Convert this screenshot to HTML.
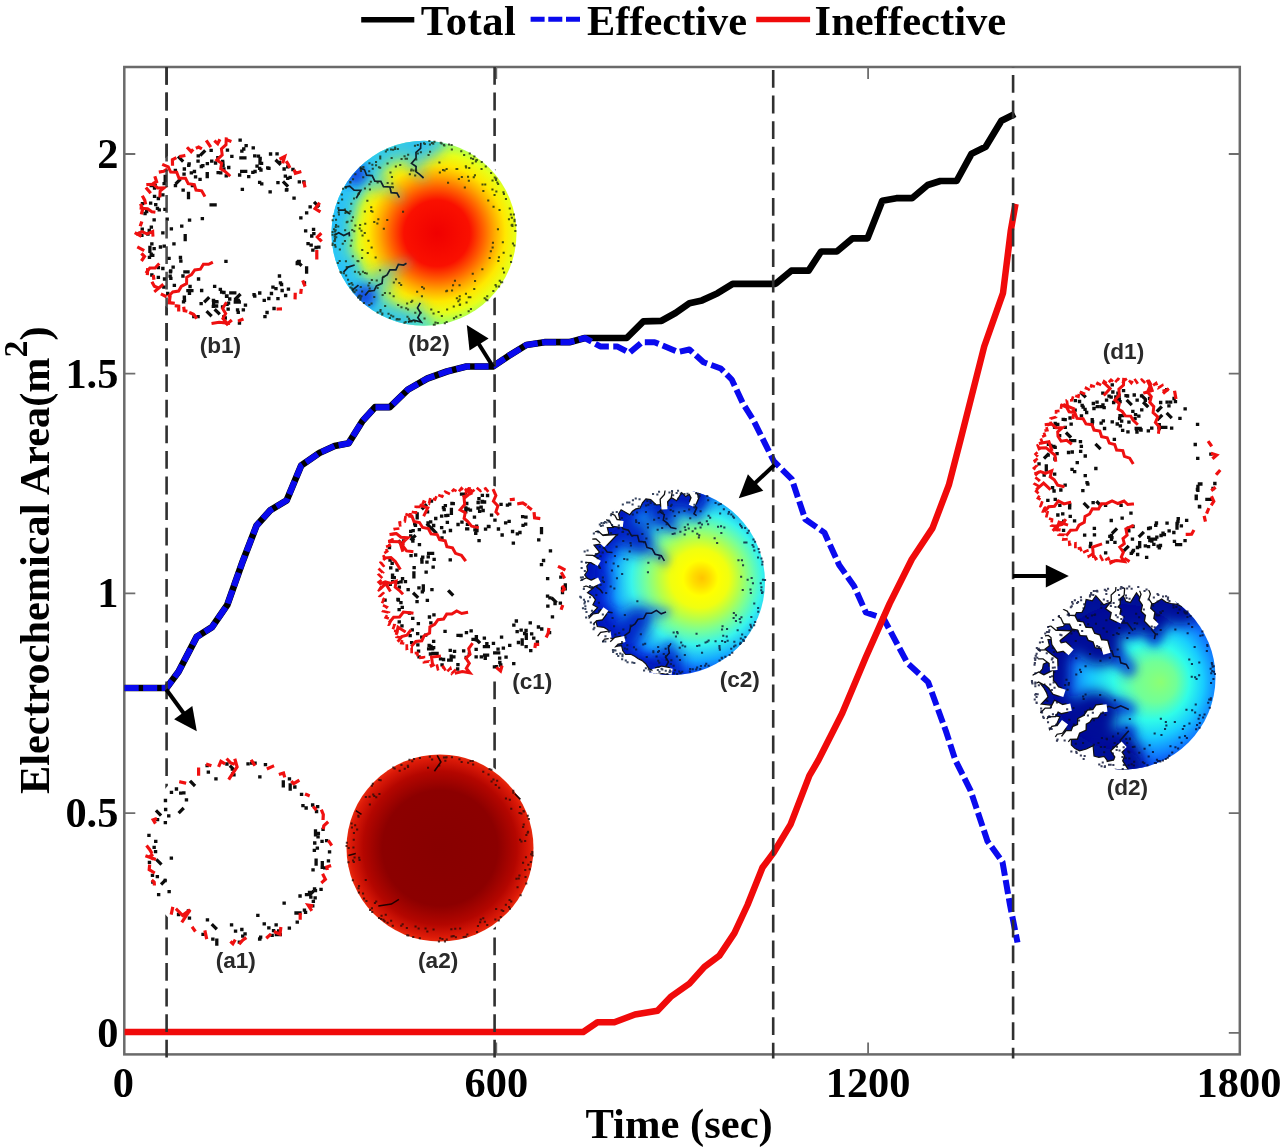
<!DOCTYPE html>
<html><head><meta charset="utf-8"><title>Electrochemical Area vs Time</title>
<style>
html,body{margin:0;padding:0;background:#fff;}
body{width:1280px;height:1148px;overflow:hidden;font-family:"Liberation Serif",serif;}
svg{display:block;filter:blur(0.45px);}
</style></head><body>
<svg width="1280" height="1148" viewBox="0 0 1280 1148">
<defs>
<filter id="blur4" x="-30%" y="-30%" width="160%" height="160%"><feGaussianBlur stdDeviation="4"/></filter>
<filter id="blur5" x="-30%" y="-30%" width="160%" height="160%"><feGaussianBlur stdDeviation="5"/></filter>
<filter id="blur6" x="-30%" y="-30%" width="160%" height="160%"><feGaussianBlur stdDeviation="6"/></filter>
<filter id="blur7" x="-30%" y="-30%" width="160%" height="160%"><feGaussianBlur stdDeviation="7"/></filter>
<filter id="blur8" x="-30%" y="-30%" width="160%" height="160%"><feGaussianBlur stdDeviation="8"/></filter>
<filter id="blur9" x="-30%" y="-30%" width="160%" height="160%"><feGaussianBlur stdDeviation="9"/></filter>
<radialGradient id="ga" gradientUnits="userSpaceOnUse" cx="0" cy="0" r="96">
 <stop offset="0" stop-color="#880000"/><stop offset="0.60" stop-color="#8c0000"/>
 <stop offset="0.80" stop-color="#b40600"/><stop offset="0.93" stop-color="#dc1a08"/><stop offset="1" stop-color="#ee3210"/>
</radialGradient>
<radialGradient id="gb" gradientUnits="userSpaceOnUse" cx="13" cy="0" r="110">
 <stop offset="0" stop-color="#f00000"/><stop offset="0.30" stop-color="#fa1000"/><stop offset="0.42" stop-color="#ff6000"/>
 <stop offset="0.52" stop-color="#ffa800"/><stop offset="0.62" stop-color="#ffe800"/><stop offset="0.72" stop-color="#e8ff18"/>
 <stop offset="0.80" stop-color="#b0ff50"/><stop offset="0.90" stop-color="#60ffb0"/><stop offset="1" stop-color="#20e0ff"/>
</radialGradient>
<radialGradient id="gc" gradientUnits="userSpaceOnUse" cx="22" cy="-2" fx="30" fy="-4" r="104">
 <stop offset="0" stop-color="#ffc400"/><stop offset="0.08" stop-color="#ffdc00"/><stop offset="0.17" stop-color="#ffff00"/>
 <stop offset="0.28" stop-color="#f0ff10"/><stop offset="0.39" stop-color="#b4ff4c"/><stop offset="0.50" stop-color="#78ff98"/>
 <stop offset="0.63" stop-color="#38f4ec"/><stop offset="0.78" stop-color="#14a8ff"/><stop offset="0.90" stop-color="#0848f0"/>
 <stop offset="1" stop-color="#0010b8"/>
</radialGradient>
<radialGradient id="gd" gradientUnits="userSpaceOnUse" cx="10" cy="4" fx="37.5" fy="4.5" r="112">
 <stop offset="0" stop-color="#8cff74"/><stop offset="0.18" stop-color="#70ff98"/><stop offset="0.34" stop-color="#30fce8"/>
 <stop offset="0.50" stop-color="#18ccff"/><stop offset="0.66" stop-color="#1080ff"/><stop offset="0.80" stop-color="#0838e8"/>
 <stop offset="0.92" stop-color="#0414b8"/><stop offset="1" stop-color="#0008a0"/>
</radialGradient>
</defs>
<rect width="1280" height="1148" fill="#fff"/>
<rect x="124.3" y="67.0" width="1115.5" height="987.4" fill="none" stroke="#6a6a6a" stroke-width="2.5"/>
<path d="M496.3 1054.4v-12M496.3 67.0v12M868.1 1054.4v-12M868.1 67.0v12M124.3 1032.8h11M1239.8 1032.8h-11M124.3 813.1h11M1239.8 813.1h-11M124.3 593.4h11M1239.8 593.4h-11M124.3 373.7h11M1239.8 373.7h-11M124.3 154.0h11M1239.8 154.0h-11" stroke="#6e6e6e" stroke-width="1.8" fill="none"/>
<polyline points="124.6,688.0 166.5,688.0 178.5,671.8 196.7,636.9 212.0,627.2 227.3,604.9 242.6,561.7 256.6,525.4 270.5,510.1 286.7,500.3 301.2,465.5 319.3,453.0 334.6,446.0 348.6,443.2 362.5,420.9 375.0,407.2 389.8,407.2 407.9,389.6 427.4,378.5 446.9,371.5 466.4,366.5 492.9,366.5 508.2,356.2 526.3,345.0 544.5,342.2 569.5,342.2 584.9,338.0 626.7,338.0 643.4,321.3 661.5,320.8 675.5,313.0 689.4,303.3 702.0,300.4 717.6,293.2 732.7,283.8 775.6,283.8 791.3,270.7 808.6,270.7 821.1,251.5 836.8,251.5 852.5,238.4 867.5,238.4 882.3,200.7 896.4,198.2 912.0,198.2 927.7,185.0 940.3,181.0 956.6,181.0 971.6,153.7 985.7,146.8 1001.4,120.8 1014.9,113.9" fill="none" stroke="#000" stroke-width="6.7" stroke-linejoin="round"/>
<polyline points="124.6,688.0 166.5,688.0 178.5,671.8 196.7,636.9 212.0,627.2 227.3,604.9 242.6,561.7 256.6,525.4 270.5,510.1 286.7,500.3 301.2,465.5 319.3,453.0 334.6,446.0 348.6,443.2 362.5,420.9 375.0,407.2 389.8,407.2 407.9,389.6 427.4,378.5 446.9,371.5 466.4,366.5 492.9,366.5 508.2,356.2 526.3,345.0 544.5,342.2 569.5,342.2 584.9,338.0 600.2,346.4 617.0,346.4 629.5,352.8 642.0,342.2 654.6,342.2 678.3,352.0 689.4,349.5 703.5,362.2 720.8,368.5 731.7,379.5 742.7,403.0 753.3,420.0 774.0,461.5 791.8,479.2 805.2,519.2 824.4,532.6 839.2,565.1 854.0,585.9 865.9,612.5 883.6,618.5 907.3,662.9 928.1,682.1 945.9,731.0 955.3,760.0 970.6,790.6 987.5,841.2 1002.5,861.9 1010.0,905.0 1017.5,942.5" fill="none" stroke="#0a0aee" stroke-width="6.0" stroke-linejoin="round" stroke-dasharray="14.1 4.4"/>
<polyline points="124.6,1032.0 583.2,1032.0 597.5,1022.3 614.4,1022.3 635.0,1014.5 657.5,1010.7 670.6,996.9 689.4,983.7 704.4,966.9 719.4,955.6 734.4,933.1 747.5,905.0 762.5,867.5 773.7,852.5 790.6,824.4 809.4,775.6 818.5,760.0 842.2,713.2 865.9,657.0 889.6,603.6 911.8,559.2 932.5,528.1 948.8,485.2 960.5,440.0 984.2,346.5 1003.0,293.2 1010.8,230.5 1015.5,203.9" fill="none" stroke="#f00a0a" stroke-width="6.5" stroke-linejoin="round"/>
<line x1="166.6" y1="67" x2="166.6" y2="1058.5" stroke="#303030" stroke-width="2.6" stroke-dasharray="17.8 7.8" stroke-dashoffset="0.0"/>
<line x1="494.6" y1="67" x2="494.6" y2="1058.5" stroke="#303030" stroke-width="2.6" stroke-dasharray="17.8 7.8" stroke-dashoffset="0.0"/>
<line x1="773.2" y1="67" x2="773.2" y2="1058.5" stroke="#303030" stroke-width="2.6" stroke-dasharray="17.8 7.8" stroke-dashoffset="22.6"/>
<line x1="1013.1" y1="67" x2="1013.1" y2="1058.5" stroke="#303030" stroke-width="2.6" stroke-dasharray="17.8 7.8" stroke-dashoffset="17.6"/>
<g transform="translate(239.0,851.5)">
<circle r="97.0" fill="#fff"/>
<path d="M-81.7 25.2h0.1M77.5 -40.0h0.1M-84.9 -4.2h0.1M34.5 79.2h0.1M-55.2 -58.7h0.1M74.3 49.9h0.1M67.5 43.2h0.1M-31.9 -85.9h0.1M75.7 -8.5h0.1M-47.9 -69.5l2.8 2.8M50.3 76.6h0.1M-90.1 -16.2h0.1M33.1 83.9h0.1M85.6 16.4h0.1M-73.9 29.0h0.1M-83.3 -10.1h0.1M-83.5 0.1h0.1M-86.6 23.8h0.1M75.3 -1.1h0.1M44.3 -69.6l0.0 4.0M-36.0 82.8h0.1M-22.2 88.7l0.0 4.0M9.0 -87.7h0.1M50.4 -72.6h0.1M76.5 -20.6l0.0 4.0M90.5 0.3h0.1M73.6 -46.5h0.1M87.6 -10.9h0.1M75.5 37.3h0.1M16.0 -88.4h0.1M76.1 46.4h0.1M79.3 -18.2h0.1M66.5 60.9h0.1M73.7 54.3h0.1M26.4 -86.8h0.1M-81.5 -31.8h0.1M29.8 76.3h0.1M57.0 61.5l4.0 0.0M65.4 58.7h0.1M20.8 87.4h0.1M79.0 -14.6h0.1M-26.1 73.8l2.8 2.8M21.6 85.6h0.1M51.2 -66.5l0.0 4.0M61.0 44.5h0.1M20.6 87.6h0.1M12.7 -88.3h0.1M-26.2 87.6h0.1M71.8 45.6h0.1M3.7 84.6h0.1M-60.5 63.0h0.1M84.0 -22.1h0.1M-70.3 -35.6h0.1M37.3 83.0l4.0 0.0M67.1 -43.5h0.1M0.3 90.7h0.1M-5.1 -76.7h0.1M25.2 72.3h0.1M62.5 -57.1h0.1M-80.4 43.2h0.1M74.0 18.4h0.1M6.0 82.4h0.1M-3.5 79.7h0.1M-73.6 -51.0h0.1M37.1 73.4h0.1M82.0 37.8h0.1M-73.7 -28.8h0.1M-67.6 -59.1h0.1M78.6 -44.9h0.1M89.4 9.3h0.1M-86.2 30.6h0.1M39.6 79.3h0.1M-81.9 -39.9l2.8 2.8M-50.6 59.5h0.1M83.0 -10.2h0.1M-30.7 -79.3h0.1M58.2 70.7h0.1M77.1 8.7l0.0 4.0M-23.1 -72.6h0.1M83.3 11.2l0.0 4.0M-81.5 9.1l2.8 2.8M-31.6 68.3h0.1M76.4 39.1h0.1M-6.4 -77.6h0.1M-6.7 -82.3h0.1M20.8 -74.7h0.1M-49.6 66.6h0.1M63.9 -45.9h0.1M-69.9 40.1h0.1M55.8 -64.5h0.1M-62.6 -62.5h0.1M-73.4 -42.0h0.1M73.5 40.5l-2.8 2.8M78.3 -3.3h0.1M-12.1 -87.5h0.1M-8.0 -84.7l2.8 2.8M-74.0 29.0l-2.8 2.8M70.5 41.0h0.1M83.2 15.8h0.1M-89.6 10.8h0.1M-67.7 6.6h0.1M45.1 51.7h0.1M18.8 63.9h0.1M-7.5 73.3h0.1M2.8 78.0h0.1M-58.3 -58.3h0.1M-52.6 -51.7h0.1M-56.4 -42.3l-2.8 2.8" stroke="#0c0c0c" stroke-width="3.3" stroke-linecap="square" fill="none"/>
<path d="M90.6 14.6L87.8 15.5L88.1 16.9M84.3 23.6L86.4 27.8L83.5 30.4M72.6 54.2L69.1 53.7L71.9 58.0M61.2 63.1L61.2 66.6M41.7 77.1L41.0 82.7L36.5 80.7M30.9 83.4L28.4 85.7M6.1 87.0L3.7 88.7L1.2 91.5M-4.5 89.5L-6.1 92.2L-7.4 91.0M-32.6 86.1L-33.8 80.5M-44.5 78.7L-46.0 76.6M-67.5 61.6L-66.5 56.9M-84.7 32.4L-84.8 30.8L-86.1 29.6M-85.6 20.7L-89.8 18.2L-89.5 14.8M-87.0 6.9L-89.7 5.4L-87.2 3.6M-87.9 0.5L-89.4 -2.1L-91.5 -4.7M-84.4 -29.3L-85.8 -31.6L-83.5 -32.5M-58.2 -69.5L-54.4 -68.6M-40.4 -77.4L-40.4 -82.5M-31.4 -87.0L-29.1 -86.2M-19.8 -86.2L-18.1 -90.1L-15.2 -88.4M-11.3 -91.8L-8.4 -88.6L-5.8 -87.7M13.0 -90.4L15.1 -87.1M29.3 -83.2L33.6 -85.1M41.4 -77.5L44.5 -78.5L45.3 -75.6M53.4 -69.3L54.6 -67.9L59.0 -70.5M67.5 -56.9L69.2 -56.2M75.2 -43.8L76.3 -42.6M82.9 -40.3L84.3 -37.0L84.1 -33.1M88.0 -28.7L84.8 -25.8L84.5 -23.8M90.2 -9.7L91.8 -7.3M-3.8 -91.2L-1.9 -84.6L-9.4 -73.3M-62.0 58.3L-56.4 63.9L-48.9 58.3L-56.4 69.6M-92.1 4.7L-84.6 7.5" stroke="#f01010" stroke-width="3.2" stroke-linecap="square" fill="none"/>
</g>
<g transform="translate(440.0,848.0)">
<circle r="96.5" fill="#fff"/>
<clipPath id="clip_a"><circle r="93.5"/></clipPath>
<g clip-path="url(#clip_a)">
<rect x="-95.5" y="-95.5" width="191.0" height="191.0" fill="url(#ga)"/>
</g>
<path d="M-86.2 13.9h0.1M-46.7 -80.6h0.1M91.1 6.2h0.1M-12.7 83.6h0.1M-32.2 -82.2h0.1M-81.5 -31.2h0.1M55.3 71.6h0.1M43.2 70.3h0.1M78.7 30.5h0.1M77.5 39.2h0.1M-47.3 77.7h0.1M51.3 -78.2h0.1M76.4 30.7h0.1M-93.2 -5.2h0.1M81.4 -6.6h0.1M69.0 58.9h0.1M60.7 69.0h0.1M-67.2 -64.3h0.1M-30.6 -88.3h0.1M40.1 74.3h0.1M-73.6 53.1h0.1M-74.2 -51.1h0.1M-70.0 62.0h0.1M-12.0 -80.3h0.1M86.3 -12.9h0.1M-56.6 71.7h0.1M-32.0 -81.0h0.1M69.9 60.7h0.1M-58.5 67.8h0.1M33.1 -83.4h0.1M83.0 14.8h0.1M-81.0 38.0h0.1M15.8 89.3h0.1M-65.1 55.1h0.1M71.2 53.5h0.1M37.9 78.0h0.1M89.7 21.2h0.1M-48.9 72.8h0.1M85.5 29.0h0.1M23.6 89.1h0.1M-80.5 12.1h0.1M-80.9 9.7h0.1M40.7 71.4h0.1M-61.0 70.0h0.1M-0.8 -82.4h0.1M92.2 3.9h0.1M11.9 -90.8h0.1M4.9 93.4h0.1M85.2 21.9h0.1M80.0 -8.2h0.1M-93.5 -2.1h0.1M-37.4 76.3h0.1M43.2 -76.3h0.1M11.5 88.6h0.1M-87.0 12.4h0.1M-6.5 81.4h0.1M73.2 -57.3h0.1M-21.4 80.5h0.1M-14.5 80.4h0.1M-86.3 -8.3h0.1M-26.0 -89.0h0.1M-20.2 90.2h0.1M-35.3 -79.2h0.1M56.1 61.1h0.1M-81.1 44.4h0.1M-74.3 32.0h0.1M-81.7 -32.3h0.1M71.2 -39.2h0.1M5.9 -90.6h0.1M-70.2 -43.6h0.1M21.6 -85.9h0.1M-52.5 74.7h0.1M-7.9 -88.5h0.1M85.9 9.3h0.1M69.8 -48.2h0.1M65.9 -49.5h0.1M-82.9 -18.5h0.1M-67.8 64.1h0.1M-55.5 73.3h0.1M79.5 -35.0h0.1M-84.9 -22.7h0.1M63.2 63.0h0.1M-27.8 -86.7h0.1M2.4 90.9h0.1M-38.8 77.7h0.1M58.7 72.6h0.1M-33.2 80.1h0.1M5.3 -87.2h0.1M83.8 -36.4h0.1M88.3 16.7h0.1M-87.2 32.2h0.1M-45.4 -79.5h0.1M6.7 91.5h0.1M87.7 -32.3h0.1M-58.9 70.9h0.1M27.3 86.4h0.1M15.2 80.8h0.1M-86.6 -0.6h0.1M47.2 76.9h0.1M-65.8 -52.0h0.1M0.1 90.3h0.1M51.5 -66.5h0.1M12.6 88.3h0.1M6.5 -90.8h0.1M-40.4 -77.3h0.1M87.6 -15.3h0.1M-38.6 -83.0h0.1M-10.2 -91.2h0.1M-91.4 0.1h0.1M-32.8 87.2h0.1M13.6 88.1h0.1M-1.1 93.4h0.1M30.4 -87.0h0.1M81.3 -34.5h0.1M-63.8 53.4h0.1M73.3 -55.3h0.1M61.6 62.3h0.1M48.5 -73.6h0.1M19.4 -88.7h0.1M-68.2 -62.3h0.1M-76.0 50.4h0.1M-68.1 60.3h0.1M32.7 -87.0h0.1M25.7 88.7h0.1M88.0 -16.2h0.1M79.4 27.4h0.1M59.1 -60.2h0.1M-54.3 66.7h0.1M-31.8 87.5h0.1M55.7 -63.0h0.1M20.1 80.6h0.1M90.8 14.1h0.1M92.6 7.6h0.1M44.8 73.8h0.1M-26.8 88.9h0.1M37.0 84.1h0.1M57.1 -67.2h0.1M69.5 52.1h0.1M-88.1 -20.4h0.1M-86.1 -15.1h0.1M28.1 -85.2h0.1M-59.4 -67.8h0.1M-60.7 -68.0h0.1M-77.0 45.6h0.1M-20.1 -90.0h0.1M80.0 -40.9h0.1M53.4 -68.4h0.1M83.7 -23.6h0.1M-81.5 40.3h0.1M-66.8 -53.6h0.1M49.5 -79.0h0.1M86.2 35.6h0.1M80.6 47.2h0.1M92.3 4.9h0.1M65.8 56.7h0.1M-60.6 -54.0h0.1M83.1 -21.1h0.1M88.8 -29.1h0.1M11.3 81.3h0.1M-91.6 14.2h0.1M3.9 -90.6h0.1M-88.5 -24.6h0.1M4.9 93.2h0.1M-63.8 -50.7h0.1M85.1 -7.1h0.1M83.5 -37.1h0.1M-24.5 78.4h0.1M-70.5 -51.3h0.1M92.3 7.3h0.1M-85.5 9.5h0.1" stroke="#2a0a08" stroke-width="2.0" stroke-linecap="square" fill="none" opacity="0.8"/>
<path d="M-2.8 -92.6L0.9 -86.0L-5.6 -76.7M-61.7 58.0L-48.6 56.1L-41.1 51.4M-91.6 7.5L-84.2 5.6M74.8 -54.2L80.4 -48.6M-84.2 -37.4L-78.5 -33.7" stroke="#200" stroke-width="1.6" fill="none"/>
</g>
<g transform="translate(229.5,232.0)">
<circle r="98.0" fill="#fff"/>
<path d="M39.3 66.5h0.1M-54.2 -61.5h0.1M15.9 73.2h0.1M28.9 -75.9h0.1M-87.3 -2.8h0.1M84.3 1.7h0.1M-78.3 -46.5l4.0 0.0M23.7 -84.2h0.1M9.9 91.1h0.1M76.1 -1.2h0.1M55.8 -55.8h0.1M83.3 18.1h0.1M-90.0 1.4h0.1M80.6 -25.1h0.1M41.9 61.5h0.1M50.9 50.8h0.1M-76.8 23.3h0.1M-45.1 68.3h0.1M35.4 84.7h0.1M58.2 -65.2h0.1M16.6 -86.4h0.1M71.3 -14.2h0.1M2.3 -75.6h0.1M-66.7 -37.1h0.1M58.9 57.1h0.1M41.0 -78.0h0.1M64.5 -33.8h0.1M-71.2 45.4h0.1M-80.1 25.3h0.1M84.0 -2.7h0.1M89.3 15.2h0.1M-14.0 -69.0h0.1M-81.6 2.0h0.1M-72.1 -23.7h0.1M13.8 77.8h0.1M-73.8 -27.4h0.1M37.5 80.5h0.1M-41.6 58.7l4.0 0.0M-45.2 65.1h0.1M-31.5 84.7h0.1M68.2 29.8l2.8 2.8M14.2 -83.0h0.1M-31.5 -70.8h0.1M57.3 -42.3h0.1M-58.8 38.9h0.1M77.1 -19.1h0.1M60.6 -54.7h0.1M-61.8 61.4h0.1M63.4 -62.5h0.1M67.7 31.5h0.1M12.3 -80.9h0.1M47.5 -78.1h0.1M-4.3 86.0h0.1M-77.7 43.0h0.1M77.1 36.0l0.0 4.0M56.9 -41.8h0.1M-2.1 -81.9h0.1M-1.0 71.2h0.1M-75.4 -12.2h0.1M86.5 15.5h0.1M39.4 -63.7h0.1M58.2 -53.7h0.1M-71.2 35.7h0.1M50.1 -69.6h0.1M-84.5 -18.5h0.1M10.6 -91.8h0.1M-28.2 -65.5h0.1M78.5 11.7h0.1M-45.5 -57.8h0.1M-75.0 -43.9h0.1M-59.1 39.8h0.1M74.3 -50.1h0.1M74.9 50.8h0.1M81.6 13.1h0.1M46.4 56.7h0.1M-50.3 -74.4l2.8 2.8M-82.9 -20.5h0.1M-87.7 3.4h0.1M44.5 76.5h0.1M-55.2 53.3h0.1M-87.1 -28.3h0.1M-17.8 -70.9h0.1M11.4 -74.1l4.0 0.0M82.2 4.0h0.1M69.6 29.4h0.1M34.7 68.4h0.1M-1.4 77.1h0.1M-35.7 84.5h0.1M-65.7 55.1h0.1M69.8 -50.2h0.1M-80.3 -1.6h0.1M85.7 -28.9l2.8 2.8M-65.4 -48.3h0.1M-6.9 -70.7h0.1M-28.4 71.6h0.1M-64.6 -22.6h0.1M-5.6 60.5h0.1M38.2 -64.2h0.1M-49.1 25.5h0.1M-21.8 80.3l2.8 2.8M-7.9 60.2h0.1M-22.2 -68.4h0.1M-64.3 -55.5l0.0 4.0M-50.0 -51.9l-2.8 2.8M-70.3 -22.1h0.1M-77.7 11.8h0.1M-2.5 72.3h0.1M-46.6 44.0h0.1M-5.7 -63.2h0.1M-78.2 -4.9h0.1M-69.1 15.0h0.1M-41.0 -38.5l0.0 4.0M-12.6 69.8h0.1M-62.4 -12.9h0.1M12.2 -60.6l4.0 0.0M-46.4 -41.8h0.1M-37.1 -46.4h0.1M-34.0 -55.1h0.1M-41.6 39.9h0.1M-65.3 14.1h0.1M-3.3 -56.1h0.1M47.2 -71.1l2.8 2.8M-66.7 36.5h0.1M-79.6 15.4l0.0 4.0M-75.0 -35.7h0.1M-48.7 29.2h0.1M-26.7 -66.3h0.1M-14.9 54.4h0.1M-40.4 -68.2h0.1M-60.5 26.4h0.1M-45.2 -63.0h0.1M32.0 -68.6h0.1M-44.6 39.9h0.1M-27.9 58.5h0.1M-39.5 54.5h0.1M-59.4 44.1h0.1M27.5 -65.8h0.1M-66.7 0.8h0.1M-65.0 47.0h0.1M-75.4 16.7h0.1M-31.0 47.0h0.1M1.3 60.8l4.0 0.0M23.3 -59.7h0.1M5.8 70.0l4.0 0.0M0.2 67.0h0.1M-40.8 -66.7h0.1M8.7 68.4h0.1M-16.2 74.4h0.1M-58.2 -3.2h0.1M-78.3 22.1h0.1M-11.4 -59.4h0.1M-78.9 -28.9h0.1M-40.1 61.3h0.1M-71.2 -33.5h0.1M-8.8 -59.2h0.1M19.2 -55.4h0.1M6.0 67.5h0.1M-9.2 57.4h0.1M-22.3 -58.3h0.1M-46.0 69.9h0.1M-6.5 -66.7h0.1M-54.1 -46.3h0.1M-11.7 -74.3h0.1M-58.7 46.3h0.1M-56.4 35.2h0.1M54.6 -63.0h0.1M-35.1 -60.5h0.1M30.6 -73.6h0.1M-18.4 -81.7h0.1M-38.2 -59.2h0.1M25.5 -60.5h0.1M-31.3 -76.2h0.1M48.4 -49.4h0.1M-0.8 -64.5h0.1M31.4 -62.0h0.1M-29.5 -52.7h0.1M-25.4 -80.4l-2.8 2.8M-6.7 -69.0h0.1M25.2 -76.2h0.1M30.1 -63.7h0.1M-22.3 -55.3h0.1M32.2 -48.2h0.1M30.5 -72.8l0.0 4.0M30.1 -49.7h0.1M10.1 -57.0h0.1M54.6 -49.4l2.8 2.8M40.6 -40.1h0.1M-5.8 85.0h0.1M30.2 61.0h0.1M9.9 63.2l-2.8 2.8M8.7 80.4h0.1M-16.1 68.3h0.1M-13.7 78.4l2.8 2.8M-21.4 66.3l-2.8 2.8M-3.0 64.3h0.1M-13.0 74.0h0.1M52.0 52.5h0.1M43.4 55.1h0.1M-7.0 74.8h0.1M56.1 63.5h0.1M25.2 64.2h0.1M49.9 44.0h0.1M48.4 66.7h0.1M-15.9 68.8l0.0 4.0M-13.3 69.6h0.1M52.6 58.5h0.1M24.5 62.6h0.1M-2.6 64.0h0.1M8.0 77.9h0.1M-44.3 3.7l0.0 4.0M-47.8 -5.8h0.1M-40.0 -11.8h0.1M-3.6 29.4h0.1M-27.2 -13.3h0.1M-18.4 -27.1l4.0 0.0M12.8 -42.6h0.1M-55.6 11.9h0.1" stroke="#0c0c0c" stroke-width="3.3" stroke-linecap="square" fill="none"/>
<path d="M51.4 -73.5L55.1 -75.4L53.6 -70.2M57.5 -69.5L58.7 -67.7L59.7 -65.5M65.2 -60.7L65.9 -58.8L70.3 -60.0M74.6 -49.1L75.2 -46.2M89.2 -28.0L85.6 -23.4L89.6 -20.9M90.7 2.3L87.9 5.1L91.1 8.3M87.3 19.6L87.3 22.7L87.3 25.9M73.8 49.9L75.0 52.8M71.6 58.5L71.4 60.3M65.7 62.3L65.6 65.8M50.9 76.9L48.7 77.0M12.5 87.6L10.0 88.6M1.1 89.1L-2.4 92.1M-33.7 85.2L-36.0 82.3L-38.9 81.0M-43.7 79.0L-45.3 78.7L-45.6 76.3M-50.8 77.8L-50.8 74.1L-53.2 73.9M-56.3 71.1L-60.3 70.7L-59.5 64.8M-64.4 64.0L-67.2 62.6M-71.5 55.8L-75.1 54.2L-76.8 51.2M-75.8 46.1L-76.0 44.6M-82.1 41.5L-81.9 37.7M-87.2 27.7L-85.0 24.5L-87.0 22.5M-86.7 17.9L-90.8 15.7M-89.4 3.5L-93.4 1.3M-88.8 -7.2L-88.2 -8.9M-87.8 -19.1L-86.9 -22.5L-88.4 -26.7M-84.2 -29.3L-84.8 -31.8L-86.5 -34.9M-79.8 -39.9L-82.6 -43.3M-75.3 -49.0L-72.9 -50.3L-74.2 -54.3M-69.1 -60.1L-65.9 -60.7L-63.6 -62.0M-57.0 -67.8L-57.1 -72.3L-54.5 -73.6M-48.6 -75.7L-45.7 -76.3M-41.4 -83.6L-38.3 -80.4L-37.3 -81.5M-32.2 -84.4L-30.9 -85.0L-29.0 -83.9M-22.4 -90.3L-19.6 -86.1M-14.0 -90.3L-11.8 -88.3L-10.3 -91.3M-1.6 -91.8L0.4 -91.1" stroke="#f01010" stroke-width="3.2" stroke-linecap="square" fill="none"/>
<path d="M-3.3 -93.1L-3.5 -87.3L-8.1 -83.2L-7.3 -77.1L-12.7 -71.9L-7.9 -68.7L-8.8 -63.2L-4.8 -60.9L-0.4 -56.8M-65.9 -67.1L-61.2 -65.0L-58.8 -59.9L-52.8 -59.8L-50.5 -53.7L-44.0 -53.7L-41.3 -48.3L-35.2 -47.4L-33.5 -41.9L-27.8 -41.2L-25.3 -36.7M-60.5 63.7L-56.7 59.9L-50.9 59.1L-48.2 54.4L-42.9 51.6L-42.8 45.3L-38.0 42.6L-34.7 38.0L-29.1 37.2L-26.1 32.2L-20.9 32.3L-18.0 30.8M-16.5 91.2L-10.4 90.2L-2.5 91.1L-6.6 86.6L-3.8 81.6L-6.9 76.5L-3.8 71.5M-81.7 -47.5L-76.4 -47.8L-71.8 -44.1L-65.3 -44.2L-69.4 -40.8L-69.6 -36.0M-92.1 1.9L-87.6 -0.4L-82.5 1.8L-76.8 -0.5L-76.6 3.2M-82.7 39.9L-79.7 36.0L-74.4 36.0L-71.2 32.5M-88.4 -23.8L-81.9 -23.3L-77.7 -20.2L-75.6 -19.9M-74.1 58.9L-67.3 53.2" stroke="#ee1010" stroke-width="3.0" stroke-linejoin="miter" stroke-linecap="square" fill="none"/>
</g>
<g transform="translate(424.0,233.3)">
<circle r="95.5" fill="#fff"/>
<clipPath id="clip_b"><circle r="92.5"/></clipPath>
<g clip-path="url(#clip_b)">
<rect x="-94.5" y="-94.5" width="189.0" height="189.0" fill="url(#gb)"/>
<g filter="url(#blur5)" fill="none" stroke-linecap="round" stroke-linejoin="round"><path d="M-3.2 -90.6L-3.4 -85.0L-8.0 -81.0L-7.9 -75.3L-12.5 -69.9L-7.9 -66.8L-8.1 -61.7L-4.7 -59.2L-0.4 -55.3M-64.2 -65.3L-59.5 -63.5L-57.4 -58.1L-51.8 -57.7L-49.2 -52.2L-43.2 -51.9L-40.5 -46.6L-34.1 -46.3L-32.8 -40.7L-27.0 -40.2L-24.6 -35.7M-58.9 62.1L-55.5 57.9L-49.8 57.2L-47.6 52.6L-41.9 50.1L-41.4 44.3L-36.9 41.7L-34.1 36.5L-28.1 36.6L-25.6 31.1L-20.4 31.7L-17.5 30.0M-16.1 88.8L-10.2 86.9L-2.8 88.7L-6.2 84.3L-3.5 79.4L-6.5 74.6L-3.7 69.6M-79.5 -46.2L-74.3 -47.2L-69.9 -43.2L-63.2 -42.9L-67.8 -35.1M-89.7 1.9L-85.3 -0.6L-80.3 2.2L-74.8 -0.4L-74.6 3.1M-80.5 38.9L-75.8 33.8L-69.3 31.7M-86.0 -23.1L-79.7 -23.3L-75.0 -19.9L-73.6 -19.4M-72.2 57.4L-65.5 51.8" stroke="#28c8ff" stroke-opacity="0.30" stroke-width="9"/></g>
<g filter="url(#blur7)" fill="none" stroke-linecap="round" stroke-linejoin="round"><path d="M-3.2 -90.6L-3.4 -85.0L-8.0 -81.0L-7.9 -75.3M-64.2 -65.3L-59.5 -63.5L-57.4 -58.1L-51.8 -57.7L-49.2 -52.2M-58.9 62.1L-55.5 57.9L-49.8 57.2L-47.6 52.6L-41.9 50.1L-41.4 44.3M-16.1 88.8L-10.2 86.9L-2.8 88.7M-79.5 -46.2L-74.3 -47.2M-89.7 1.9L-85.3 -0.6M-80.5 38.9L-75.8 33.8M-86.0 -23.1L-79.7 -23.3M-72.2 57.4L-65.5 51.8" stroke="#24c0ff" stroke-opacity="0.50" stroke-width="24"/></g>
<g filter="url(#blur7)" fill="none" stroke-linecap="round" stroke-linejoin="round"><path d="M-28.3 87.1L-34.5 84.8L-40.5 82.1L-46.4 79.0L-51.9 75.4L-57.3 71.5L-62.3 67.1L-67.0 62.5L-71.3 57.5L-75.3 52.2L-78.8 46.6L-82.0 40.8L-84.7 34.8L-87.0 28.6L-88.8 22.2L-90.2 15.7L-91.1 9.2L-91.5 2.6L-91.5 -4.0L-91.0 -10.6L-90.0 -17.2L-88.5 -23.6L-86.5 -29.9L-84.2 -36.1L-81.3 -42.1L-78.1 -47.8L-74.4 -53.4L-70.4 -58.6L-66.0 -63.5L-61.2 -68.1L-56.1 -72.4L-50.8 -76.2L-45.1 -79.7L-39.3 -82.7L-33.2 -85.4L-26.9 -87.5L-20.5 -89.2L-14.0 -90.5L-7.5 -91.3L-0.9 -91.6L5.8 -91.4" stroke="#20b8ff" stroke-opacity="0.75" stroke-width="30"/></g>
<circle cx="-68.5" cy="-59.2" r="11" fill="#0838e0" fill-opacity="0.85" filter="url(#blur5)"/>
<circle cx="-59.2" cy="62.9" r="11" fill="#0838e0" fill-opacity="0.85" filter="url(#blur5)"/>
<path d="M-3.2 -90.6L-3.4 -85.0L-8.0 -81.0L-7.9 -75.3L-12.5 -69.9L-7.9 -66.8L-8.1 -61.7L-4.7 -59.2L-0.4 -55.3M-64.2 -65.3L-59.5 -63.5L-57.4 -58.1L-51.8 -57.7L-49.2 -52.2L-43.2 -51.9L-40.5 -46.6L-34.1 -46.3L-32.8 -40.7L-27.0 -40.2L-24.6 -35.7M-58.9 62.1L-55.5 57.9L-49.8 57.2L-47.6 52.6L-41.9 50.1L-41.4 44.3L-36.9 41.7L-34.1 36.5L-28.1 36.6L-25.6 31.1L-20.4 31.7L-17.5 30.0M-16.1 88.8L-10.2 86.9L-2.8 88.7L-6.2 84.3L-3.5 79.4L-6.5 74.6L-3.7 69.6M-79.5 -46.2L-74.3 -47.2L-69.9 -43.2L-63.2 -42.9L-67.8 -35.1M-89.7 1.9L-85.3 -0.6L-80.3 2.2L-74.8 -0.4L-74.6 3.1M-80.5 38.9L-75.8 33.8L-69.3 31.7M-86.0 -23.1L-79.7 -23.3L-75.0 -19.9L-73.6 -19.4M-72.2 57.4L-65.5 51.8" stroke="#10202a" stroke-width="1.7" fill="none"/>
</g>
<path d="M74.9 23.9h0.1M68.6 14.1h0.1M-78.9 -3.1h0.1M-63.9 40.9h0.1M72.3 -41.8h0.1M-54.4 55.2h0.1M-22.6 73.9h0.1M-77.8 -21.6h0.1M-36.5 -69.7h0.1M58.3 36.0h0.1M-49.8 63.6h0.1M-57.3 40.1h0.1M75.5 -23.4h0.1M-71.5 51.5h0.1M68.5 -52.8h0.1M-79.1 -23.9h0.1M-38.9 72.7h0.1M32.2 83.4h0.1M-71.1 -16.1h0.1M-51.7 -68.5h0.1M-30.9 -83.5h0.1M-61.1 38.4h0.1M70.5 -38.2h0.1M45.2 -65.2h0.1M-76.6 -11.6h0.1M73.9 -4.1h0.1M-73.3 12.5h0.1M-51.3 -64.6h0.1M15.4 -70.7h0.1M-54.1 -43.9h0.1M78.8 9.0h0.1M-54.9 -62.0h0.1M35.6 66.2h0.1M-77.3 33.8h0.1M66.8 18.0h0.1M-52.5 70.1h0.1M17.8 82.8h0.1M57.5 -64.3h0.1M-14.5 86.9h0.1M-84.2 16.1h0.1M-41.4 61.6h0.1M64.2 -32.7h0.1M79.6 19.5h0.1M52.1 -72.7h0.1M23.1 76.1h0.1M-54.6 49.7h0.1M-15.9 -78.5h0.1M0.5 85.2h0.1M-9.1 88.3h0.1M-43.8 -74.9h0.1M58.5 -48.8h0.1M74.3 27.7h0.1M-71.0 -54.1h0.1M-89.2 7.5h0.1M9.2 -89.6h0.1M-46.4 -50.7h0.1M48.5 -70.0h0.1M-85.1 -18.8h0.1M-39.1 59.7h0.1M37.2 -82.0h0.1M-55.6 52.3h0.1M32.8 64.9h0.1M61.2 -48.7h0.1M-46.4 54.7h0.1M-85.8 -6.9h0.1M-15.1 85.4h0.1M41.8 -67.1h0.1M-23.8 -68.4h0.1M84.9 -14.1h0.1M-59.1 39.7h0.1M6.0 -81.6h0.1M-48.0 -71.3h0.1M46.9 75.7h0.1M-61.9 58.3h0.1M-68.7 -7.7h0.1M44.7 64.0h0.1M50.9 -58.0h0.1M-72.4 -12.5h0.1M68.9 9.5h0.1M-28.2 -66.9h0.1M40.1 -78.4h0.1M78.9 35.1h0.1M-69.8 -2.1h0.1M68.4 -43.8h0.1M-53.2 -51.5h0.1M-34.2 60.0h0.1M69.5 -26.6h0.1M59.3 -42.2h0.1M-48.0 -68.0h0.1M-16.6 83.4h0.1M65.6 24.7h0.1M-26.8 85.6h0.1M-35.5 80.5h0.1M-78.1 28.0h0.1M36.0 71.2h0.1M-72.4 7.2h0.1M-7.8 -73.8h0.1M-52.8 -22.2h0.1M32.5 -64.4h0.1M-0.1 55.1h0.1M-73.6 -22.1h0.1M-25.9 71.7h0.1M-69.1 38.5h0.1M-1.9 53.8h0.1M-6.2 -79.7h0.1M-58.8 -9.5h0.1M-78.6 -20.3h0.1M-66.5 27.6h0.1M19.0 -63.2h0.1M-64.4 -4.8h0.1M-2.1 62.9h0.1M-7.9 -62.9h0.1M-71.2 22.9h0.1M9.5 80.3h0.1M-30.4 62.9h0.1M-18.4 -74.6h0.1M-63.9 -8.2h0.1M-60.8 -56.0h0.1M20.5 -62.7h0.1M-65.4 39.0h0.1M-31.1 -46.1h0.1M-65.7 28.0h0.1M-70.0 -34.7h0.1M-55.6 7.5h0.1M-52.8 -26.0h0.1M-44.0 37.0h0.1M-17.1 -74.6h0.1M-59.2 -21.8h0.1M-56.7 -32.6h0.1M-47.3 47.3h0.1M-56.3 19.6h0.1M-52.4 14.2h0.1M-65.2 -40.1h0.1M-79.1 7.6h0.1M-32.4 -75.2h0.1M-59.1 -44.7h0.1M-19.5 -77.1h0.1M-36.4 -50.3h0.1M-54.6 57.6h0.1M-61.8 16.8h0.1M-63.3 53.7h0.1M-59.3 -0.3h0.1M-24.7 49.6h0.1M-75.7 -20.8h0.1M-16.9 70.3h0.1M-77.3 -11.1h0.1M-11.8 67.4h0.1M-52.2 46.8h0.1M-62.6 -2.6h0.1M-65.6 -39.3h0.1M-30.2 49.3h0.1M-3.3 79.5h0.1M-6.9 58.4h0.1M-51.6 -21.6h0.1M-54.6 -49.0h0.1M-61.5 2.3h0.1M-40.6 43.5h0.1M-81.3 10.4h0.1M-62.0 24.6h0.1M-22.9 51.6h0.1M22.6 -64.3h0.1M15.8 -60.8h0.1M-72.8 -29.5h0.1M24.0 -50.6h0.1M-71.8 -3.4h0.1M-32.1 -56.4h0.1M44.0 -56.6h0.1M-12.5 -63.9h0.1M42.1 -65.9h0.1M-12.9 -62.9h0.1M-31.7 -49.9h0.1M-8.9 -57.9h0.1M4.5 -78.2h0.1M-45.1 -66.0h0.1M-14.2 -59.1h0.1M34.8 -54.4h0.1M-10.5 -62.7h0.1M33.2 -64.3h0.1M-33.6 -60.7h0.1M-22.5 -74.3h0.1M-3.2 -81.0h0.1M49.7 -56.1h0.1M40.8 -45.9h0.1M-32.5 -46.4h0.1M37.8 -56.2h0.1M44.8 -52.6h0.1M-43.9 -65.5h0.1M29.0 51.9h0.1M-8.8 79.5h0.1M35.7 71.8h0.1M41.9 60.4h0.1M29.7 73.3h0.1M7.2 76.2h0.1M-12.7 68.7h0.1M22.2 57.9h0.1M34.3 67.9h0.1M50.2 55.8h0.1M35.5 51.9h0.1M28.0 57.1h0.1M42.5 69.3h0.1M35.7 62.9h0.1M-16.0 76.1h0.1M46.3 63.9h0.1M30.9 47.4h0.1M-17.8 74.9h0.1M51.0 47.6h0.1M14.5 78.8h0.1M23.0 57.5h0.1M48.7 40.4h0.1M-21.0 -21.5h0.1M-40.2 -4.5h0.1M-49.8 -11.2h0.1M-46.7 -9.7h0.1M-48.4 24.1h0.1M-28.0 45.9h0.1M-45.7 -14.1h0.1M-36.8 -13.4h0.1M9.8 91.4h0.1M-73.6 -50.7h0.1M-33.0 -83.9h0.1M-81.0 -44.5h0.1M-30.8 83.3h0.1M-66.0 64.2h0.1M-77.9 42.3h0.1M75.0 53.2h0.1M-88.5 0.9h0.1M-70.5 58.0h0.1M10.4 -91.5h0.1M-25.3 86.1h0.1M51.8 -71.8h0.1M-41.8 81.1h0.1M-60.1 69.6h0.1M-12.6 88.1h0.1M90.5 -12.0h0.1M80.0 39.1h0.1M86.8 -18.8h0.1M-76.0 46.5h0.1M5.9 -88.9h0.1M-87.8 4.0h0.1M17.6 -89.7h0.1M-83.5 38.8h0.1M-62.6 62.9h0.1M-89.7 7.8h0.1M16.7 -90.6h0.1M-54.7 71.8h0.1M-89.3 3.4h0.1M81.9 -34.3h0.1M-85.7 -25.2h0.1M-85.4 -21.1h0.1M-73.7 -51.2h0.1M-71.9 55.1h0.1M8.0 -90.4h0.1M73.3 -50.7h0.1M85.7 -24.8h0.1M-82.2 -38.7h0.1M88.9 10.1h0.1M0.8 -89.2h0.1M5.3 -92.2h0.1M-36.7 -83.5h0.1M-67.7 57.0h0.1M-74.7 50.8h0.1M87.0 28.7h0.1M22.6 88.7h0.1M-91.4 -13.1h0.1M78.1 48.9h0.1M-9.1 -87.5h0.1M0.0 -90.1h0.1M60.6 65.0h0.1M63.3 67.0h0.1M-88.3 -6.4h0.1M-32.9 82.2h0.1M-43.5 76.6h0.1M-6.3 -88.3h0.1M88.3 -8.6h0.1M29.9 85.0h0.1M-85.7 -24.7h0.1M11.4 89.1h0.1M-19.5 89.5h0.1M-84.4 27.6h0.1M-85.7 -30.2h0.1M13.7 89.8h0.1M-73.5 54.1h0.1M-34.2 84.8h0.1M-24.4 86.0h0.1M-63.3 -63.4h0.1M79.4 -41.1h0.1M62.0 66.1h0.1M-88.0 -13.5h0.1M-90.4 -17.4h0.1M-88.5 13.4h0.1M19.9 -88.2h0.1M20.8 90.0h0.1M-89.0 -1.7h0.1M69.3 57.6h0.1M-73.8 -51.4h0.1M10.6 91.5h0.1M90.3 12.3h0.1M72.2 -54.7h0.1M88.4 -7.3h0.1M-78.2 -45.5h0.1M-81.9 -33.8h0.1M-46.4 79.2h0.1M72.0 -53.2h0.1M-65.2 63.0h0.1M72.3 53.3h0.1M20.3 -87.9h0.1M-28.9 -84.3h0.1M-43.6 78.2h0.1M87.8 -15.5h0.1M36.5 81.6h0.1M-54.6 -70.1h0.1M-26.2 -84.3h0.1M90.5 -13.6h0.1M-91.5 11.8h0.1M91.7 -8.0h0.1M-80.2 40.0h0.1M-82.8 39.5h0.1M-91.5 -1.4h0.1M-89.0 5.6h0.1M-27.4 86.2h0.1M-60.8 -66.4h0.1M27.8 -83.9h0.1M89.8 -18.9h0.1M-91.4 10.1h0.1M-28.9 -85.9h0.1M52.8 -73.2h0.1M27.6 -88.2h0.1M-68.7 -59.1h0.1M45.7 -79.9h0.1M75.7 47.4h0.1M-41.7 80.3h0.1M-72.5 49.8h0.1M-63.1 -62.2h0.1M47.0 -75.0h0.1M-86.2 29.7h0.1M-88.0 -8.4h0.1M67.1 -60.4h0.1M74.1 -49.2h0.1M86.7 22.5h0.1M25.0 -88.8h0.1M-64.3 62.3h0.1M-90.0 -4.0h0.1M77.0 49.0h0.1M61.7 -66.8h0.1M-89.0 11.8h0.1M-18.4 88.7h0.1M-88.4 -3.1h0.1M50.3 -76.7h0.1M-89.0 -1.8h0.1M71.7 -54.5h0.1M-60.6 -65.8h0.1M-43.8 -76.8h0.1M87.6 -8.0h0.1M63.2 62.9h0.1M-69.5 59.0h0.1M71.5 51.8h0.1M70.7 -55.8h0.1M-91.5 1.4h0.1M79.9 -39.3h0.1M44.6 78.0h0.1M91.3 -2.4h0.1M-63.5 65.0h0.1M-63.7 66.4h0.1M-63.3 -65.9h0.1M-38.2 -81.8h0.1M49.1 -74.3h0.1M57.7 -71.3h0.1" stroke="#1a2a10" stroke-width="2.0" stroke-linecap="square" fill="none" opacity="0.8"/>
</g>
<g transform="translate(472.7,581.7)">
<circle r="98.0" fill="#fff"/>
<path d="M89.8 6.9l0.0 4.0M-60.5 48.2h0.1M58.0 69.0h0.1M8.6 75.2h0.1M45.7 60.8h0.1M-47.0 -76.3l-2.8 2.8M-80.6 -18.4h0.1M-60.0 36.7h0.1M76.8 50.9h0.1M77.7 -30.9h0.1M27.1 80.8h0.1M-47.1 53.5h0.1M21.7 85.1h0.1M-69.2 -40.9h0.1M70.8 -21.2h0.1M-54.2 69.4h0.1M36.4 -60.4h0.1M74.8 14.5h0.1M52.9 -57.5h0.1M14.8 73.4h0.1M-11.2 -87.6l4.0 0.0M-55.5 -67.9l0.0 4.0M82.3 21.9h0.1M-42.3 72.3h0.1M-44.7 -58.9h0.1M68.7 -17.0h0.1M74.9 -3.1h0.1M-30.7 83.2h0.1M-57.3 -56.4h0.1M-41.3 -80.5h0.1M25.3 67.5h0.1M-62.0 -45.9h0.1M69.0 47.3h0.1M66.0 -41.8h0.1M88.1 -4.6h0.1M-71.8 20.9h0.1M-70.5 25.6h0.1M-83.3 -34.0h0.1M57.5 41.1h0.1M64.6 60.2h0.1M-39.1 66.0h0.1M49.9 -65.1h0.1M-75.0 0.9h0.1M-14.8 83.0h0.1M-59.6 -51.0h0.1M87.6 21.4h0.1M49.5 58.3l0.0 4.0M-24.9 -66.4h0.1M9.6 -86.4h0.1M6.9 -70.3h0.1M-53.7 75.2h0.1M-61.1 61.0h0.1M41.0 81.9h0.1M51.9 51.8h0.1M75.1 24.4h0.1M23.8 85.0h0.1M37.0 -77.6h0.1M33.3 75.4h0.1M-27.4 -76.1h0.1M53.2 -64.6h0.1M-75.7 -11.5h0.1M-74.4 18.3h0.1M-87.7 18.5h0.1M53.6 52.6l0.0 4.0M-2.3 -71.5h0.1M-29.3 -74.1h0.1M37.0 63.6h0.1M61.0 56.5h0.1M53.4 65.0h0.1M-29.2 77.8h0.1M-19.5 -78.1h0.1M3.4 75.2h0.1M-6.9 -73.8l0.0 4.0M77.2 16.2h0.1M68.8 -53.1l0.0 4.0M22.0 71.1l4.0 0.0M-54.9 63.1h0.1M34.7 -76.6h0.1M28.0 83.3h0.1M-43.6 63.6h0.1M-51.0 55.5h0.1M79.7 35.1h0.1M-58.0 -57.9h0.1M-71.7 0.1h0.1M-15.1 87.3h0.1M80.0 17.2l2.8 2.8M-24.0 78.5h0.1M92.6 3.2l0.0 4.0M-55.1 51.9h0.1M-22.5 68.7h0.1M-73.4 -40.0l2.8 2.8M14.8 -86.2h0.1M-58.2 -45.3l-2.8 2.8M-82.7 -21.7h0.1M65.7 45.3h0.1M-39.1 59.7h0.1M-45.8 -19.5h0.1M-40.0 -52.2l2.8 2.8M5.3 -73.6h0.1M-58.5 12.2l2.8 2.8M-69.5 -33.4h0.1M-53.8 6.2h0.1M-41.9 41.1h0.1M-1.6 49.2h0.1M-42.1 -59.9h0.1M29.4 -46.7h0.1M-6.5 75.8h0.1M-46.6 -9.6h0.1M-32.2 77.2h0.1M-73.5 40.2h0.1M-64.6 7.9h0.1M-80.1 -0.1h0.1M3.6 54.9h0.1M-67.3 -0.0h0.1M-58.8 -8.8l0.0 4.0M12.8 -52.5h0.1M-31.1 -65.6h0.1M-39.8 71.8h0.1M6.2 -83.1h0.1M-44.5 -24.8h0.1M-63.3 31.5h0.1M-49.4 4.3l0.0 4.0M-30.8 -43.9h0.1M0.3 57.7h0.1M-70.2 -3.0h0.1M-5.3 -57.3h0.1M15.7 -55.3h0.1M18.8 -66.6h0.1M-50.0 -24.5h0.1M-80.2 -4.3h0.1M-44.1 -28.3l4.0 0.0M9.7 -80.2h0.1M-74.8 17.6h0.1M-45.4 18.6h0.1M-73.4 5.5h0.1M-54.4 42.0h0.1M-44.9 -56.9l2.8 2.8M-41.8 64.6h0.1M-38.8 33.2h0.1M-27.7 49.7h0.1M-14.7 53.7h0.1M-43.3 35.3h0.1M-82.5 2.6h0.1M-11.7 53.8h0.1M-61.7 -26.1h0.1M-55.7 20.0h0.1M-82.0 -13.8h0.1M-59.4 -43.5h0.1M1.7 -64.6h0.1M-20.8 -78.2h0.1M-31.1 -54.0h0.1M2.2 -51.9h0.1M-57.1 -26.7h0.1M-21.3 -72.4l0.0 4.0M-50.9 -22.3h0.1M-53.3 -37.0h0.1M3.0 -48.3h0.1M-62.6 53.9h0.1M-62.0 -50.3h0.1M32.9 -58.9h0.1M-50.8 -19.7h0.1M9.3 -79.5h0.1M-78.5 -4.1h0.1M-80.2 -6.5h0.1M10.4 -71.2h0.1M-50.4 10.2h0.1M-4.7 -72.6h0.1M-58.6 -14.1h0.1M-44.1 67.2l4.0 0.0M5.4 -79.2h0.1M-28.5 -49.9h0.1M-59.9 -40.6h0.1M3.9 -55.5l0.0 4.0M-6.3 51.0h0.1M-53.4 -52.0h0.1M-39.6 71.6l4.0 0.0M-6.0 -52.9h0.1M-73.6 27.9h0.1M-9.1 69.2h0.1M-70.8 44.2h0.1M-10.8 -59.6h0.1M-37.0 -63.2h0.1M11.8 -79.7h0.1M-45.2 -69.9h0.1M-22.3 -51.2h0.1M39.8 -50.2h0.1M50.3 -56.4h0.1M-14.7 -57.2h0.1M16.2 -55.1h0.1M-6.3 -72.7h0.1M25.7 -52.7h0.1M-28.6 -72.0h0.1M-39.1 -56.2h0.1M47.2 -49.2h0.1M-25.4 -59.3h0.1M28.3 -77.3h0.1M44.6 -47.9h0.1M8.4 -74.6h0.1M-26.9 -66.0h0.1M-6.0 -78.2h0.1M22.2 -61.5h0.1M40.6 -38.6h0.1M20.7 61.7h0.1M30.6 66.4h0.1M11.6 56.4h0.1M53.3 48.8h0.1M28.8 55.5h0.1M-18.2 69.7h0.1M48.4 48.5h0.1M11.7 65.0l4.0 0.0M-3.4 72.2h0.1M14.1 62.0h0.1M58.9 52.1h0.1M3.4 57.5l2.8 2.8M-18.9 75.1h0.1M-21.5 74.5l0.0 4.0M26.9 76.4h0.1M11.9 73.4h0.1M3.6 58.1h0.1M44.4 49.9h0.1M12.5 76.7h0.1M43.6 39.3h0.1M3.4 67.6h0.1M41.1 43.5h0.1M-40.8 7.9h0.1M-39.6 -14.5h0.1M6.3 -41.0h0.1M-22.5 -21.8h0.1M4.2 -51.2h0.1M-23.4 9.8l2.8 2.8M-38.6 -22.3h0.1M-5.1 -52.8h0.1" stroke="#0c0c0c" stroke-width="3.3" stroke-linecap="square" fill="none"/>
<path d="M38.7 -82.2L40.5 -82.4M46.1 -78.0L50.1 -78.7L52.7 -77.1M55.8 -74.5L57.8 -73.0M61.5 -68.0L61.9 -63.8L66.0 -63.3M86.7 -14.7L89.1 -13.6L91.3 -12.4M89.3 -8.0L91.2 -4.7M90.4 5.2L91.6 7.2L90.0 9.0M89.5 24.9L88.9 26.6M76.0 47.8L75.5 51.4L74.1 54.4M64.9 62.7L62.7 62.7L62.4 64.7M28.9 85.5L27.8 89.3L24.7 86.7" stroke="#f01010" stroke-width="3.2" stroke-linecap="square" fill="none"/>
<path d="M-40.1 83.0L-41.2 75.3L-33.3 74.5M-76.2 51.8L-74.7 45.5L-68.3 49.5M-91.9 6.7L-86.9 2.0L-83.0 8.6M-83.0 -40.1L-72.9 -39.9L-70.3 -31.4M-51.8 -76.2L-44.9 -73.8L-48.4 -66.8M-6.7 -91.9L-2.1 -88.1L-8.8 -85.0M-3.3 -93.1L-3.6 -87.4L-8.6 -83.4L-8.0 -77.3L-12.6 -71.9L-7.5 -68.9L-8.6 -63.3L-5.1 -60.3L-1.1 -55.5L4.6 -54.3M20.9 -91.2L23.2 -86.2L20.7 -80.5L25.2 -75.8L23.2 -69.9L25.1 -67.8M-65.9 -67.1L-60.8 -65.6L-58.7 -60.1L-53.2 -59.2L-50.1 -54.2L-44.4 -53.2L-41.6 -47.8L-35.5 -47.1L-33.1 -42.1L-27.5 -40.9L-25.8 -35.0L-20.2 -33.8L-17.2 -28.4L-11.3 -26.4L-7.8 -21.7M-60.5 63.7L-56.9 59.7L-50.9 59.1L-48.6 54.1L-43.1 51.4L-42.8 45.3L-38.0 42.6L-34.7 38.0L-29.1 37.3L-26.0 32.4L-20.9 32.4L-16.0 29.2L-11.0 31.8L-6.1 30.8M-16.5 91.2L-10.4 89.8L-2.8 91.1L-6.4 86.6L-3.4 81.6L-6.8 76.6L-2.7 72.6L-4.0 66.9L-1.0 62.6M-81.7 -47.5L-76.3 -48.2L-71.8 -44.5L-64.7 -44.0L-69.4 -39.8L-69.7 -35.5L-66.1 -30.8L-60.8 -30.1M-92.1 1.9L-87.5 0.2L-82.5 1.6L-76.6 -0.5L-77.5 5.4L-73.5 8.6L-70.7 11.5M-82.7 39.9L-79.1 35.6L-73.1 35.3L-69.3 30.3L-60.7 31.4M-88.4 -23.8L-81.8 -24.1L-77.4 -20.3L-73.1 -13.5M-74.1 58.9L-71.0 54.9L-65.8 53.4L-62.7 49.4" stroke="#ee1010" stroke-width="3.0" stroke-linejoin="miter" stroke-linecap="square" fill="none"/>
<path d="M-16.8 87.9L-20.9 91.7L-22.4 86.7L-26.1 90.4L-29.4 85.1L-34.8 87.4L-36.2 81.8L-41.4 84.5L-43.7 79.7L-48.7 80.5L-48.8 75.6L-54.8 76.4L-55.4 71.2L-61.0 71.6L-61.1 66.0L-65.9 67.1L-65.9 62.1L-71.3 61.4L-69.9 56.1L-76.1 55.2L-75.4 49.3L-80.3 49.0L-78.3 43.5L-83.6 43.0L-81.5 37.6L-87.0 35.7L-84.1 30.8L-89.3 29.5L-85.9 25.3L-91.2 22.9L-88.9 17.6L-92.9 14.6L-89.6 11.5L-93.7 8.6L-90.6 3.9L-94.0 0.5L-89.6 -2.7L-93.8 -7.0L-90.0 -9.3L-93.2 -12.3L-89.2 -15.9L-92.0 -19.4L-87.7 -23.2L-90.0 -27.4L-85.5 -30.4L-87.5 -34.6L-82.9 -36.3L-84.9 -40.4L-80.3 -41.8L-81.3 -47.3L-76.7 -48.1L-77.9 -52.7L-72.1 -53.3L-73.1 -59.2L-67.9 -60.2L-67.1 -65.9L-62.1 -65.2L-62.6 -70.2L-56.8 -69.0L-56.9 -74.9L-51.3 -74.9L-49.1 -80.2L-43.7 -78.1L-42.3 -84.0L-37.6 -82.1L-35.5 -87.1L-30.6 -85.2L-27.6 -89.9L-22.7 -87.7L-19.0 -92.1L-14.3 -89.6L-11.2 -93.4L-7.0 -89.3L-3.5 -94.0L-0.7 -89.9L4.0 -94.0L7.8 -90.7L12.9 -93.2L16.8 -88.4" stroke="#ee1010" stroke-width="2.7" stroke-linejoin="miter" fill="none" stroke-dasharray="6 3"/>
</g>
<g transform="translate(672.0,582.0)">
<circle r="96.0" fill="#fff"/>
<clipPath id="clip_c"><circle r="93.0"/></clipPath>
<g clip-path="url(#clip_c)">
<rect x="-95.0" y="-95.0" width="190.0" height="190.0" fill="url(#gc)"/>
<g filter="url(#blur4)" fill="none" stroke-linecap="round" stroke-linejoin="round"><path d="M-3.3 -91.1L-4.2 -85.8L-8.1 -81.5L-7.7 -75.6L-12.5 -70.4L-7.7 -67.3L-8.7 -61.8L-4.9 -59.1L-1.1 -54.4L4.5 -53.2M20.5 -89.3L23.0 -84.4L20.7 -78.8L24.7 -74.2L22.0 -68.2L24.6 -66.4M-64.5 -65.7L-59.8 -63.8L-57.2 -59.1L-51.8 -58.4L-49.0 -53.2L-43.6 -51.9L-40.8 -46.8L-34.4 -46.5L-32.9 -40.6L-26.8 -40.1L-25.0 -34.6L-19.8 -33.1L-16.9 -27.8L-10.7 -26.3L-7.6 -21.2M-59.2 62.4L-55.5 58.7L-50.0 57.6L-47.1 53.3L-42.6 50.1L-41.4 44.7L-37.0 42.0L-34.0 37.3L-28.4 36.6L-25.7 31.3L-20.5 31.2L-15.6 28.4L-10.8 31.8L-6.0 30.1M-16.2 89.3L-10.2 87.8L-2.8 89.2L-6.3 84.8L-3.5 79.9L-6.5 75.0L-2.7 71.0L-3.6 65.6L-1.0 61.3M-80.0 -46.5L-74.8 -46.9L-70.4 -42.8L-63.8 -43.2L-67.9 -38.9L-68.3 -34.8L-64.8 -29.9L-59.5 -29.5M-90.2 1.9L-85.7 -0.1L-80.7 2.2L-75.3 -0.4L-75.3 5.0L-71.7 7.9L-69.2 11.3M-80.9 39.1L-77.1 35.4L-71.6 34.5L-67.9 29.4L-59.4 30.7M-86.5 -23.2L-80.2 -23.0L-75.3 -20.1L-71.5 -13.2M-72.5 57.7L-69.4 53.8L-63.9 52.9L-61.4 48.4" stroke="#0c50f0" stroke-opacity="0.50" stroke-width="10"/></g>
<g filter="url(#blur7)" fill="none" stroke-linecap="round" stroke-linejoin="round"><path d="M-3.3 -91.1L-4.2 -85.8L-8.1 -81.5L-7.7 -75.6L-12.5 -70.4L-7.7 -67.3M20.5 -89.3L23.0 -84.4L20.7 -78.8M-64.5 -65.7L-59.8 -63.8L-57.2 -59.1L-51.8 -58.4L-49.0 -53.2L-43.6 -51.9L-40.8 -46.8L-34.4 -46.5L-32.9 -40.6M-59.2 62.4L-55.5 58.7L-50.0 57.6L-47.1 53.3L-42.6 50.1L-41.4 44.7L-37.0 42.0L-34.0 37.3M-16.2 89.3L-10.2 87.8L-2.8 89.2L-6.3 84.8L-3.5 79.9M-80.0 -46.5L-74.8 -46.9L-70.4 -42.8L-63.8 -43.2M-90.2 1.9L-85.7 -0.1L-80.7 2.2L-75.3 -0.4M-80.9 39.1L-77.1 35.4L-71.6 34.5M-86.5 -23.2L-80.2 -23.0M-72.5 57.7L-69.4 53.8" stroke="#0618c0" stroke-opacity="0.85" stroke-width="28"/></g>
<g filter="url(#blur6)" fill="none" stroke-linecap="round" stroke-linejoin="round"><path d="M-14.4 90.9L-21.7 89.5L-28.9 87.4L-35.8 84.8L-42.6 81.6L-49.0 77.9L-55.2 73.7L-60.9 69.0L-66.3 63.9L-71.3 58.3L-75.7 52.3L-79.7 46.1L-83.2 39.5L-86.1 32.6L-88.5 25.5L-90.2 18.3L-91.4 11.0L-92.0 3.5L-92.0 -3.9L-91.4 -11.3L-90.2 -18.7L-88.4 -25.9L-86.0 -32.9L-83.0 -39.8L-79.5 -46.4L-75.5 -52.6L-71.0 -58.6L-66.1 -64.1L-60.7 -69.3L-54.9 -73.9L-48.7 -78.1L-42.2 -81.8L-35.5 -85.0L-28.5 -87.5L-21.4 -89.6L-14.0 -91.0L-6.6 -91.8L0.8 -92.1L8.2 -91.7L15.6 -90.7L22.9 -89.2" stroke="#0414b8" stroke-opacity="0.95" stroke-width="22"/></g>
<polygon points="-15.3,96.4 -20.2,95.5 -25.1,94.4 -29.9,92.9 -34.7,91.3 -39.4,89.4 -43.9,87.2 -48.3,84.8 -52.6,82.2 -56.8,79.4 -60.8,76.4 -64.7,73.2 -68.4,69.7 -71.9,66.1 -75.2,62.3 -78.3,58.4 -81.2,54.3 -83.9,50.0 -86.3,45.6 -88.6,41.1 -90.6,36.5 -92.3,31.8 -93.9,27.0 -95.1,22.1 -96.1,17.2 -96.9,12.2 -97.4,7.2 -97.6,2.2 -97.6,-2.9 -97.3,-7.9 -96.8,-12.9 -96.0,-17.9 -95.0,-22.8 -93.7,-27.7 -92.1,-32.4 -90.3,-37.1 -88.3,-41.8 -86.0,-46.2 -83.5,-50.6 -80.8,-54.8 -77.9,-58.9 -74.7,-62.9 -71.4,-66.6 -67.9,-70.2 -64.1,-73.6 -60.3,-76.8 -56.2,-79.8 -52.0,-82.6 -47.7,-85.2 -43.3,-87.5 -38.7,-89.7 -34.0,-91.5 -29.3,-93.2 -24.4,-94.5 -19.5,-95.7 -14.6,-96.6 -9.6,-97.2 -4.6,-97.5 0.5,-97.6 5.5,-97.5 10.5,-97.1 15.5,-96.4 20.5,-95.5 25.4,-94.3 30.2,-92.9 28.7,-88.4 23.7,-88.2 19.0,-88.6 13.7,-85.4 9.7,-89.4 4.6,-81.3 0.4,-83.8 -3.9,-83.8 -8.4,-85.6 -11.7,-77.5 -15.7,-77.1 -21.3,-82.4 -26.1,-83.2 -29.5,-79.2 -31.9,-74.0 -36.1,-73.1 -39.6,-70.7 -42.3,-67.2 -50.9,-72.2 -53.4,-68.1 -51.6,-59.2 -61.2,-63.3 -58.5,-54.6 -64.7,-54.4 -63.1,-47.8 -69.1,-46.9 -70.5,-42.7 -70.8,-38.1 -78.0,-36.9 -72.5,-29.8 -76.5,-26.9 -84.0,-24.8 -82.3,-19.8 -85.2,-15.9 -84.4,-11.3 -87.3,-7.1 -83.7,-2.5 -78.9,1.7 -78.3,5.8 -84.5,10.6 -79.2,14.1 -76.5,17.8 -79.1,22.7 -74.4,25.6 -81.7,32.9 -80.2,37.2 -75.9,40.1 -74.7,44.5 -68.0,45.4 -64.1,47.8 -63.3,52.5 -61.2,56.3 -55.8,56.9 -57.2,64.7 -50.5,63.4 -49.2,68.8 -46.4,72.5 -41.2,72.3 -37.3,74.2 -33.8,76.8 -29.9,78.6 -26.3,81.7 -23.1,86.8 -18.8,88.6 -14.5,91.9" fill="#fff"/>
<polyline points="-14.5,91.9 -18.8,88.6 -23.1,86.8 -26.3,81.7 -29.9,78.6 -33.8,76.8 -37.3,74.2 -41.2,72.3 -46.4,72.5 -49.2,68.8 -50.5,63.4 -57.2,64.7 -55.8,56.9 -61.2,56.3 -63.3,52.5 -64.1,47.8 -68.0,45.4 -74.7,44.5 -75.9,40.1 -80.2,37.2 -81.7,32.9 -74.4,25.6 -79.1,22.7 -76.5,17.8 -79.2,14.1 -84.5,10.6 -78.3,5.8 -78.9,1.7 -83.7,-2.5 -87.3,-7.1 -84.4,-11.3 -85.2,-15.9 -82.3,-19.8 -84.0,-24.8 -76.5,-26.9 -72.5,-29.8 -78.0,-36.9 -70.8,-38.1 -70.5,-42.7 -69.1,-46.9 -63.1,-47.8 -64.7,-54.4 -58.5,-54.6 -61.2,-63.3 -51.6,-59.2 -53.4,-68.1 -50.9,-72.2 -42.3,-67.2 -39.6,-70.7 -36.1,-73.1 -31.9,-74.0 -29.5,-79.2 -26.1,-83.2 -21.3,-82.4 -15.7,-77.1 -11.7,-77.5 -8.4,-85.6 -3.9,-83.8 0.4,-83.8 4.6,-81.3 9.7,-89.4 13.7,-85.4 19.0,-88.6 23.7,-88.2 28.7,-88.4" fill="none" stroke="#111" stroke-width="1.2"/>
<path d="M-3.3 -91.1L-4.2 -85.8L-8.1 -81.5L-7.7 -75.6L-12.5 -70.4L-7.7 -67.3L-8.7 -61.8L-4.9 -59.1L-1.1 -54.4L4.5 -53.2" stroke="#0a1030" stroke-width="1.6" fill="none"/>
<path d="M-3.3 -91.1L-4.2 -85.8L-8.1 -81.5L-7.7 -75.6" stroke="#111" stroke-width="8.6" stroke-linecap="butt" stroke-linejoin="miter" fill="none"/>
<path d="M-3.3 -91.1L-4.2 -85.8L-8.1 -81.5L-7.7 -75.6" stroke="#fff" stroke-width="6.0" stroke-linecap="square" stroke-linejoin="miter" fill="none"/>
<path d="M20.5 -89.3L23.0 -84.4L20.7 -78.8L24.7 -74.2L22.0 -68.2L24.6 -66.4" stroke="#0a1030" stroke-width="1.6" fill="none"/>
<path d="M20.5 -89.3L23.0 -84.4L20.7 -78.8" stroke="#111" stroke-width="8.6" stroke-linecap="butt" stroke-linejoin="miter" fill="none"/>
<path d="M20.5 -89.3L23.0 -84.4L20.7 -78.8" stroke="#fff" stroke-width="6.0" stroke-linecap="square" stroke-linejoin="miter" fill="none"/>
<path d="M-64.5 -65.7L-59.8 -63.8L-57.2 -59.1L-51.8 -58.4L-49.0 -53.2L-43.6 -51.9L-40.8 -46.8L-34.4 -46.5L-32.9 -40.6L-26.8 -40.1L-25.0 -34.6L-19.8 -33.1L-16.9 -27.8L-10.7 -26.3L-7.6 -21.2" stroke="#0a1030" stroke-width="1.6" fill="none"/>
<path d="M-64.5 -65.7L-59.8 -63.8L-57.2 -59.1L-51.8 -58.4" stroke="#111" stroke-width="8.6" stroke-linecap="butt" stroke-linejoin="miter" fill="none"/>
<path d="M-64.5 -65.7L-59.8 -63.8L-57.2 -59.1L-51.8 -58.4" stroke="#fff" stroke-width="6.0" stroke-linecap="square" stroke-linejoin="miter" fill="none"/>
<path d="M-59.2 62.4L-55.5 58.7L-50.0 57.6L-47.1 53.3L-42.6 50.1L-41.4 44.7L-37.0 42.0L-34.0 37.3L-28.4 36.6L-25.7 31.3L-20.5 31.2L-15.6 28.4L-10.8 31.8L-6.0 30.1" stroke="#0a1030" stroke-width="1.6" fill="none"/>
<path d="M-59.2 62.4L-55.5 58.7L-50.0 57.6" stroke="#111" stroke-width="8.6" stroke-linecap="butt" stroke-linejoin="miter" fill="none"/>
<path d="M-59.2 62.4L-55.5 58.7L-50.0 57.6" stroke="#fff" stroke-width="6.0" stroke-linecap="square" stroke-linejoin="miter" fill="none"/>
<path d="M-16.2 89.3L-10.2 87.8L-2.8 89.2L-6.3 84.8L-3.5 79.9L-6.5 75.0L-2.7 71.0L-3.6 65.6L-1.0 61.3" stroke="#0a1030" stroke-width="1.6" fill="none"/>
<path d="M-16.2 89.3L-10.2 87.8L-2.8 89.2" stroke="#111" stroke-width="8.6" stroke-linecap="butt" stroke-linejoin="miter" fill="none"/>
<path d="M-16.2 89.3L-10.2 87.8L-2.8 89.2" stroke="#fff" stroke-width="6.0" stroke-linecap="square" stroke-linejoin="miter" fill="none"/>
<path d="M-80.0 -46.5L-74.8 -46.9L-70.4 -42.8L-63.8 -43.2L-67.9 -38.9L-68.3 -34.8L-64.8 -29.9L-59.5 -29.5" stroke="#0a1030" stroke-width="1.6" fill="none"/>
<path d="M-80.0 -46.5L-74.8 -46.9L-70.4 -42.8L-63.8 -43.2L-67.9 -38.9" stroke="#111" stroke-width="8.6" stroke-linecap="butt" stroke-linejoin="miter" fill="none"/>
<path d="M-80.0 -46.5L-74.8 -46.9L-70.4 -42.8L-63.8 -43.2L-67.9 -38.9" stroke="#fff" stroke-width="6.0" stroke-linecap="square" stroke-linejoin="miter" fill="none"/>
<path d="M-90.2 1.9L-85.7 -0.1L-80.7 2.2L-75.3 -0.4L-75.3 5.0L-71.7 7.9L-69.2 11.3" stroke="#0a1030" stroke-width="1.6" fill="none"/>
<path d="M-90.2 1.9L-85.7 -0.1L-80.7 2.2L-75.3 -0.4" stroke="#111" stroke-width="8.6" stroke-linecap="butt" stroke-linejoin="miter" fill="none"/>
<path d="M-90.2 1.9L-85.7 -0.1L-80.7 2.2L-75.3 -0.4" stroke="#fff" stroke-width="6.0" stroke-linecap="square" stroke-linejoin="miter" fill="none"/>
<path d="M-80.9 39.1L-77.1 35.4L-71.6 34.5L-67.9 29.4L-59.4 30.7" stroke="#0a1030" stroke-width="1.6" fill="none"/>
<path d="M-80.9 39.1L-77.1 35.4L-71.6 34.5L-67.9 29.4" stroke="#111" stroke-width="8.6" stroke-linecap="butt" stroke-linejoin="miter" fill="none"/>
<path d="M-80.9 39.1L-77.1 35.4L-71.6 34.5L-67.9 29.4" stroke="#fff" stroke-width="6.0" stroke-linecap="square" stroke-linejoin="miter" fill="none"/>
<path d="M-86.5 -23.2L-80.2 -23.0L-75.3 -20.1L-71.5 -13.2" stroke="#0a1030" stroke-width="1.6" fill="none"/>
<path d="M-86.5 -23.2L-80.2 -23.0L-75.3 -20.1" stroke="#111" stroke-width="8.6" stroke-linecap="butt" stroke-linejoin="miter" fill="none"/>
<path d="M-86.5 -23.2L-80.2 -23.0L-75.3 -20.1" stroke="#fff" stroke-width="6.0" stroke-linecap="square" stroke-linejoin="miter" fill="none"/>
<path d="M-72.5 57.7L-69.4 53.8L-63.9 52.9L-61.4 48.4" stroke="#0a1030" stroke-width="1.6" fill="none"/>
<path d="M-72.5 57.7L-69.4 53.8L-63.9 52.9" stroke="#111" stroke-width="8.6" stroke-linecap="butt" stroke-linejoin="miter" fill="none"/>
<path d="M-72.5 57.7L-69.4 53.8L-63.9 52.9" stroke="#fff" stroke-width="6.0" stroke-linecap="square" stroke-linejoin="miter" fill="none"/>
</g>
<polyline points="-23.2,90.4 -29.0,88.7 -34.7,86.6 -40.2,84.2 -45.6,81.4 -50.8,78.3 -55.7,74.8 -60.5,71.1 -64.9,67.0 -69.1,62.7 -73.0,58.0 -76.6,53.2 -79.9,48.1 -82.9,42.8 -85.5,37.4 -87.7,31.8 -89.6,26.0 -91.1,20.2 -92.2,14.2 -92.9,8.2 -93.3,2.2 -93.2,-3.8 -92.8,-9.9 -91.9,-15.9 -90.7,-21.8 -89.1,-27.6 -87.1,-33.3 -84.8,-38.9 -82.1,-44.3 -79.1,-49.5 -75.7,-54.5 -72.0,-59.3 -68.0,-63.9 -63.7,-68.1 -59.2,-72.1 -54.4,-75.8 -49.4,-79.2 -44.1,-82.2 -38.7,-84.9 -33.2,-87.2 -27.4,-89.2 -21.6,-90.8 -15.7,-92.0 -9.7,-92.8 -3.7,-93.2 2.4,-93.3 8.4,-92.9 14.4,-92.2 20.4,-91.1" fill="none" stroke="#fff" stroke-width="2.4"/>
<path d="M61.6 36.0h0.1M-69.4 -1.3h0.1M49.0 -55.7h0.1M69.4 35.2h0.1M79.6 -3.9h0.1M79.3 34.9h0.1M69.1 -5.2h0.1M1.6 83.7h0.1M-17.4 -77.7h0.1M27.3 63.6h0.1M-60.0 -56.9h0.1M78.8 10.9h0.1M1.1 -86.8h0.1M63.9 39.0h0.1M72.3 -39.5h0.1M-75.7 13.0h0.1M-87.2 -11.0h0.1M-13.4 85.1h0.1M28.9 83.9h0.1M-66.6 54.2h0.1M48.1 -68.4h0.1M71.0 -16.7h0.1M-10.5 86.7h0.1M-72.2 -35.2h0.1M-85.9 -19.2h0.1M-72.7 -14.4h0.1M-80.1 28.8h0.1M74.4 -39.5h0.1M75.6 -2.2h0.1M80.9 1.2h0.1M43.5 59.2h0.1M-78.1 42.3h0.1M69.9 -21.7h0.1M-61.0 -49.0h0.1M61.8 31.1h0.1M-25.3 75.1h0.1M-80.2 5.0h0.1M70.7 8.1h0.1M-82.0 3.9h0.1M46.0 -55.2h0.1M-13.7 -69.5h0.1M-51.8 71.6h0.1M-44.7 63.3h0.1M17.1 -72.6h0.1M-53.2 -56.4h0.1M-39.3 -67.5h0.1M78.4 7.5h0.1M-14.2 88.0h0.1M-55.0 -46.9h0.1M-15.5 74.4h0.1M-53.4 -53.8h0.1M52.3 -54.4h0.1M67.7 37.0h0.1M-47.3 66.5h0.1M-39.5 -77.4h0.1M-49.0 -50.3h0.1M63.9 33.3h0.1M-21.4 -79.0h0.1M8.8 -88.5h0.1M36.6 58.4h0.1M-62.7 -60.3h0.1M55.6 58.8h0.1M-66.1 -19.8h0.1M30.0 70.7h0.1M-73.1 28.7h0.1M82.3 -31.5h0.1M38.1 -64.2h0.1M-9.7 87.5h0.1M-1.4 -72.0h0.1M-49.5 72.4h0.1M-71.5 -25.8h0.1M-51.5 63.4h0.1M70.1 52.5h0.1M12.8 73.0h0.1M62.3 59.8h0.1M-83.9 19.2h0.1M4.8 74.4h0.1M7.9 78.0h0.1M68.4 40.2h0.1M-25.9 -76.6h0.1M33.1 83.7h0.1M-12.8 80.7h0.1M65.6 48.2h0.1M-89.2 -4.7h0.1M-35.8 -59.9h0.1M-23.7 -77.3h0.1M34.8 -60.8h0.1M66.4 -21.7h0.1M6.9 -69.7h0.1M6.2 -83.3h0.1M53.1 59.9h0.1M-24.7 -81.1h0.1M-56.6 68.5h0.1M82.2 21.6h0.1M51.8 -72.8h0.1M-28.8 62.5h0.1M36.5 -66.2h0.1M-1.2 81.9h0.1M-77.7 30.7h0.1M-50.2 -64.0h0.1M-44.9 67.2h0.1M-63.2 49.7h0.1M-35.9 67.6h0.1M-41.4 43.6h0.1M-73.1 20.7h0.1M5.6 51.2h0.1M2.6 -48.4h0.1M-33.1 -58.9h0.1M-69.2 32.5h0.1M-68.1 -0.1h0.1M28.5 -70.7h0.1M-29.7 -48.1h0.1M-39.8 -46.0h0.1M-0.7 78.2h0.1M-58.4 -18.5h0.1M25.2 -48.3h0.1M-50.0 60.1h0.1M-21.5 -80.5h0.1M22.4 -77.3h0.1M-42.4 -30.5h0.1M-13.8 78.7h0.1M-41.5 -38.9h0.1M7.7 65.8h0.1M-9.9 -53.9h0.1M-82.0 15.2h0.1M-48.8 -41.0h0.1M-61.4 4.4h0.1M-55.5 -35.3h0.1M-57.1 -26.1h0.1M-14.4 -52.3h0.1M3.9 54.4h0.1M-48.7 47.5h0.1M-46.4 55.4h0.1M-65.9 10.9h0.1M-18.7 70.3h0.1M-69.2 -4.6h0.1M-76.1 -28.1h0.1M-44.7 -22.5h0.1M-24.3 -58.1h0.1M-9.3 -68.9h0.1M-31.2 52.3h0.1M-52.9 51.1h0.1M-17.9 -62.2h0.1M-38.1 65.3h0.1M-24.1 -54.4h0.1M12.8 -54.7h0.1M-47.2 32.9h0.1M8.3 -50.2h0.1M22.2 -75.1h0.1M-56.7 52.5h0.1M-5.4 -57.7h0.1M-68.3 -34.1h0.1M-57.7 6.5h0.1M1.6 50.5h0.1M-25.7 -43.4h0.1M26.7 -58.7h0.1M-59.5 36.1h0.1M-60.1 -11.4h0.1M-58.0 44.3h0.1M-53.9 -15.8h0.1M5.1 49.9h0.1M-44.2 -47.7h0.1M-47.8 -23.1h0.1M-71.5 3.1h0.1M-14.0 69.9h0.1M-6.0 74.0h0.1M-49.5 -50.0h0.1M18.2 -63.7h0.1M-1.2 -76.0h0.1M26.8 -44.6h0.1M13.5 -52.0h0.1M-74.3 -23.7h0.1M0.6 -48.1h0.1M-55.1 -3.7h0.1M-41.1 -36.6h0.1M15.8 -57.4h0.1M-26.9 61.8h0.1M-69.3 -29.4h0.1M-36.0 -61.8h0.1M-13.1 69.1h0.1M29.9 -57.5h0.1M-9.9 -70.5h0.1M23.3 -53.5h0.1M-35.0 -69.5h0.1M-0.4 -77.2h0.1M-26.1 -70.0h0.1M-33.3 -75.6h0.1M1.1 -70.7h0.1M16.7 -53.4h0.1M49.3 -49.0h0.1M-13.3 -63.9h0.1M2.7 -66.0h0.1M42.6 -43.8h0.1M45.1 -38.9h0.1M27.2 -46.7h0.1M28.5 -54.4h0.1M20.6 -50.8h0.1M12.4 -71.0h0.1M22.8 -74.6h0.1M36.1 -57.8h0.1M-5.6 -63.3h0.1M28.0 -59.2h0.1M33.5 60.6h0.1M55.0 46.9h0.1M50.5 44.2h0.1M54.7 54.5h0.1M-3.3 63.9h0.1M47.8 67.7h0.1M-18.7 69.2h0.1M50.0 47.6h0.1M-6.4 66.8h0.1M35.3 59.7h0.1M24.5 51.8h0.1M-5.5 77.7h0.1M9.1 60.5h0.1M47.4 64.1h0.1M13.1 64.6h0.1M25.1 63.9h0.1M10.6 63.4h0.1M51.2 53.7h0.1M50.1 59.1h0.1M-13.9 64.9h0.1M-8.3 72.0h0.1M47.5 66.1h0.1M-12.4 -24.8h0.1M-28.0 -39.7h0.1M-12.9 -23.5h0.1M-34.7 19.3h0.1M12.6 -47.6h0.1M-23.7 -19.3h0.1M-24.1 -9.8h0.1M-49.9 -8.0h0.1M-58.9 70.0h0.1M-91.1 -4.4h0.1M43.5 -78.9h0.1M27.6 -85.9h0.1M83.1 39.9h0.1M63.4 63.4h0.1M-57.5 68.2h0.1M69.1 -56.1h0.1M-49.2 -77.6h0.1M79.0 44.5h0.1M26.4 -84.9h0.1M82.1 43.2h0.1M-77.7 45.8h0.1M-39.7 80.5h0.1M4.6 -89.0h0.1M83.0 -40.2h0.1M86.6 -33.1h0.1M-69.2 -56.5h0.1M68.7 60.9h0.1M-36.3 -83.4h0.1M71.9 58.7h0.1M-72.2 -57.6h0.1M53.3 74.7h0.1M-90.4 -20.3h0.1M-44.5 80.2h0.1M-1.4 89.5h0.1M-87.1 19.8h0.1M80.5 -37.1h0.1M7.2 89.6h0.1M60.2 70.7h0.1M-61.1 -66.8h0.1M47.5 78.4h0.1M-19.0 -88.1h0.1M68.8 56.5h0.1M90.5 10.3h0.1M-70.5 -58.9h0.1M49.7 75.7h0.1M76.7 -51.2h0.1M71.0 57.8h0.1M90.5 -20.3h0.1M-74.4 -50.6h0.1M87.4 -29.8h0.1M0.0 -91.0h0.1M69.9 -54.5h0.1M-67.1 -60.1h0.1M68.5 60.8h0.1M75.5 -49.0h0.1M-4.7 92.0h0.1M36.1 -81.7h0.1M-55.3 -70.0h0.1M24.2 87.5h0.1M61.0 -65.6h0.1M-69.0 59.6h0.1M59.3 -67.4h0.1M36.6 83.8h0.1M2.0 91.3h0.1M-89.1 26.2h0.1M89.4 5.2h0.1M-85.9 35.6h0.1M-86.7 24.3h0.1M-49.9 77.3h0.1M62.0 -64.2h0.1M-89.9 -2.2h0.1M-42.7 -79.6h0.1M-46.3 78.6h0.1M8.4 91.0h0.1M78.4 42.8h0.1M-28.0 88.6h0.1M25.1 85.6h0.1M-78.2 -48.6h0.1M86.2 29.8h0.1M-84.5 -31.6h0.1M62.0 64.4h0.1M46.6 -77.6h0.1M90.2 -17.5h0.1M5.1 91.9h0.1M68.0 -57.5h0.1M20.7 87.2h0.1M-49.6 74.2h0.1M-26.2 86.2h0.1M-68.1 -59.1h0.1M56.9 -70.0h0.1M8.5 90.9h0.1M-12.6 89.7h0.1M-81.2 40.4h0.1M-37.7 80.9h0.1M-86.7 27.1h0.1M-85.6 30.0h0.1M-55.2 72.1h0.1M90.0 11.1h0.1M17.8 89.4h0.1M71.5 58.9h0.1M-59.1 68.0h0.1M88.7 1.2h0.1M28.2 87.1h0.1M-2.1 88.6h0.1M56.4 -68.2h0.1M-2.6 -89.4h0.1M73.3 55.0h0.1M73.1 -54.1h0.1M50.0 76.2h0.1M-88.1 17.8h0.1M-39.1 -81.8h0.1M10.2 89.7h0.1M-44.9 -79.5h0.1M90.9 -2.2h0.1M77.5 48.2h0.1M-90.4 -13.9h0.1M15.5 -88.3h0.1M-82.9 34.1h0.1M24.0 -88.8h0.1M93.0 -1.9h0.1M86.0 -24.6h0.1M35.2 -86.1h0.1M48.7 -78.0h0.1M-6.3 88.7h0.1M-88.2 6.9h0.1M-32.5 -82.7h0.1M-65.6 -59.5h0.1M-59.2 -69.5h0.1M-23.3 87.4h0.1M3.0 88.3h0.1M81.5 -35.2h0.1M12.4 -88.1h0.1M-63.5 -61.5h0.1M68.0 62.0h0.1M-91.1 15.5h0.1M86.1 25.9h0.1M8.9 -88.2h0.1M-14.7 -87.5h0.1M-21.9 89.2h0.1M-91.8 14.8h0.1M79.4 45.4h0.1M-73.6 -49.8h0.1M-87.6 21.6h0.1M34.2 81.8h0.1M-13.0 -90.2h0.1M89.2 8.2h0.1M-66.7 59.5h0.1M18.1 87.1h0.1M-71.1 -56.1h0.1M-78.5 47.3h0.1M-53.8 74.0h0.1M-87.4 -30.5h0.1M59.2 66.8h0.1M57.6 73.0h0.1M81.4 -42.6h0.1M6.0 -91.3h0.1M89.4 -23.5h0.1M-2.5 89.9h0.1" stroke="#081838" stroke-width="2.0" stroke-linecap="square" fill="none" opacity="0.8"/>
</g>
<g transform="translate(1127.0,471.5)">
<circle r="97.0" fill="#fff"/>
<path d="M-63.5 58.8h0.1M36.0 61.7h0.1M-67.4 -35.9h0.1M-78.6 -27.2h0.1M-9.1 -78.4h0.1M15.0 -75.6l2.8 2.8M43.6 -69.4h0.1M49.6 73.1l4.0 0.0M-14.8 -86.7h0.1M-43.9 -64.4h0.1M69.2 27.1h0.1M70.9 14.9l0.0 4.0M47.0 -73.0h0.1M-11.2 -74.6l0.0 4.0M54.3 54.3h0.1M50.9 50.1h0.1M-26.2 -64.9h0.1M79.9 27.9l4.0 0.0M-57.0 -53.5h0.1M29.8 65.6h0.1M48.4 -69.8h0.1M46.8 61.0h0.1M-64.3 42.4h0.1M-82.9 3.5h0.1M87.8 12.0h0.1M-73.0 19.5h0.1M-67.2 33.9h0.1M-70.0 -17.9h0.1M-47.5 -70.0h0.1M58.0 69.1h0.1M70.4 17.9h0.1M52.9 -53.2h0.1M59.6 48.9h0.1M50.1 51.8h0.1M-42.0 -62.2h0.1M-63.8 -52.2h0.1M40.8 -57.4l2.8 2.8M4.2 81.9h0.1M-8.0 -76.2h0.1M-69.2 43.5h0.1M83.8 -17.3h0.1M18.3 74.3h0.1M-12.1 70.8h0.1M-32.6 63.3h0.1M-52.5 49.4h0.1M0.5 -75.5h0.1M19.6 85.8h0.1M86.0 17.0h0.1M-45.2 -78.1l2.8 2.8M6.4 78.9h0.1M47.4 69.8h0.1M10.4 76.0h0.1M51.2 47.2h0.1M-61.8 -44.1h0.1M-76.3 -26.2h0.1M70.7 -13.2h0.1M39.7 -81.9h0.1M-59.9 -37.8l2.8 2.8M-51.9 -61.3h0.1M-51.7 -70.9h0.1M-10.4 -73.6h0.1M72.4 35.0h0.1M-69.3 -47.2h0.1M-29.7 -64.8h0.1M70.5 -47.2h0.1M42.1 59.4h0.1M-55.9 -47.4h0.1M58.1 -62.7h0.1M-72.5 -44.3h0.1M22.5 -73.0h0.1M5.5 80.4h0.1M-71.8 -48.2l0.0 4.0M33.4 74.0h0.1M72.6 35.3h0.1M68.2 -27.0h0.1M69.2 24.6h0.1M-15.9 -74.3h0.1M73.8 12.5h0.1M24.8 69.6h0.1M-36.7 75.0h0.1M34.0 64.0h0.1M12.7 71.2l0.0 4.0M-88.0 -7.7h0.1M-44.9 -66.1h0.1M72.4 12.4h0.1M-65.8 51.5h0.1M-14.8 -49.6h0.1M-74.5 16.1h0.1M-54.8 -19.5h0.1M-34.8 -51.9l0.0 4.0M-45.7 -25.1h0.1M-42.4 63.6h0.1M-49.8 -8.8h0.1M-6.7 -45.6h0.1M-52.4 0.2h0.1M-17.2 64.8h0.1M-4.9 46.7h0.1M31.9 -44.0h0.1M-22.9 -63.8h0.1M-14.2 -79.5h0.1M-66.2 18.5h0.1M7.2 -76.5h0.1M-36.3 71.9h0.1M0.8 -70.4l2.8 2.8M17.3 -68.3l2.8 2.8M-1.0 -75.8h0.1M9.9 -39.4h0.1M8.0 -52.8h0.1M9.5 -42.3h0.1M33.7 -63.8l-2.8 2.8M1.9 -49.4h0.1M-71.8 27.8h0.1M14.7 -61.6h0.1M-41.8 -15.5h0.1M-72.1 -12.5h0.1M-34.5 -49.8h0.1M-42.2 32.6l2.8 2.8M18.3 -71.2h0.1M-5.4 -50.3h0.1M-71.9 -24.1h0.1M-45.6 -55.6h0.1M-33.9 31.2h0.1M-63.3 49.6h0.1M0.9 -39.7h0.1M-57.3 33.5h0.1M-46.4 -20.2h0.1M6.0 55.0h0.1M-29.4 30.9l2.8 2.8M-41.8 4.2h0.1M-55.0 -2.2h0.1M0.6 75.5l-2.8 2.8M-57.4 36.3h0.1M-32.7 56.8h0.1M-11.1 58.0l-2.8 2.8M21.3 -40.7h0.1M-30.4 -26.4l2.8 2.8M-23.7 -50.7h0.1M-80.7 -5.5l0.0 4.0M9.2 -43.2l4.0 0.0M-7.4 -53.0h0.1M-4.4 -41.1h0.1M24.7 -43.3h0.1M3.9 41.7h0.1M-56.3 -30.9l4.0 0.0M-72.4 2.6h0.1M1.3 56.7h0.1M-61.9 -51.8h0.1M14.0 -41.5h0.1M5.8 -60.1h0.1M-61.9 13.6h0.1M-40.0 11.2h0.1M13.5 -41.9h0.1M-58.5 -19.0h0.1M-40.4 -59.0h0.1M-21.5 33.9h0.1M-56.8 44.9h0.1M-78.9 -16.4h0.1M-73.2 -25.0h0.1M-3.5 -80.8h0.1M-10.8 -71.7h0.1M-9.8 -47.5h0.1M33.6 -69.0h0.1M41.9 -65.7h0.1M-79.2 28.8h0.1M-79.1 -17.0l-2.8 2.8M11.8 -55.3h0.1M34.1 -55.5l-2.8 2.8M-25.9 -48.4h0.1M-4.4 -55.9h0.1M-30.0 -69.4h0.1M44.6 -43.3h0.1M-24.1 -66.6h0.1M14.5 -75.6h0.1M-24.2 -78.4h0.1M10.1 -71.4h0.1M-7.0 -69.8h0.1M-7.7 -72.6h0.1M40.1 -69.4h0.1M-33.1 -63.0h0.1M-13.4 -69.0h0.1M34.8 -44.1l4.0 0.0M32.3 -46.9l0.0 4.0M-20.5 -71.3h0.1M-33.7 -68.0h0.1M-18.0 -75.3h0.1M-7.0 -55.9h0.1M8.5 -56.9h0.1M15.7 61.5l-2.8 2.8M5.4 67.7h0.1M-15.1 66.2h0.1M21.5 75.1h0.1M50.0 52.5l0.0 4.0M31.1 74.7h0.1M-21.4 81.3h0.1M26.8 72.9h0.1M23.3 56.4h0.1M-19.6 70.7h0.1M1.8 59.4h0.1M37.3 63.2h0.1M21.6 57.0h0.1M29.4 51.5h0.1M40.0 51.7h0.1M10.6 83.0h0.1M28.7 53.9h0.1M32.3 76.4h0.1M21.7 65.9h0.1M22.8 69.1h0.1M-15.6 63.8l0.0 4.0M24.6 67.6l4.0 0.0M-22.5 -43.0h0.1M-31.2 -3.0h0.1M-15.8 49.0h0.1M-6.0 33.8h0.1M-12.7 -32.2h0.1M-46.6 -29.9h0.1M-39.2 12.7h0.1M-44.2 19.1h0.1" stroke="#0c0c0c" stroke-width="3.3" stroke-linecap="square" fill="none"/>
<path d="M37.2 -79.0L40.6 -81.9M47.8 -79.2L48.7 -74.0M82.0 -29.1L83.8 -26.5M85.5 -17.7L89.6 -16.4L86.6 -13.8M92.2 -0.3L90.1 2.1M87.4 16.8L85.5 18.2M85.1 26.2L86.8 29.8L85.1 32.5M81.3 38.0L80.2 40.6M77.5 45.9L78.1 48.6M66.2 59.8L64.6 62.7L60.3 62.8M1.2 89.2L-1.3 87.6" stroke="#f01010" stroke-width="3.2" stroke-linecap="square" fill="none"/>
<path d="M-33.6 84.8L-34.4 75.5L-26.4 72.9M-70.3 58.1L-67.9 50.7L-60.4 53.1M-89.6 17.1L-83.4 11.6L-77.6 17.2M-86.7 -28.2L-78.1 -29.8L-75.4 -22.0M-62.4 -66.5L-53.2 -62.7L-53.9 -54.0M-22.7 -88.3L-16.9 -82.9L-22.3 -77.1M22.7 -88.3L25.2 -81.1L17.7 -78.8M-3.3 -92.1L-3.5 -86.4L-8.1 -82.3L-7.7 -76.4L-12.0 -71.4L-7.7 -68.0L-8.9 -62.4L-4.8 -60.0L-1.6 -55.6L3.7 -55.4L6.0 -51.5L9.8 -47.8M20.7 -90.2L23.0 -85.3L20.5 -79.6L24.3 -74.9L22.8 -69.1L26.8 -64.9L26.1 -58.9L30.8 -54.6L28.4 -49.1L32.3 -44.5L31.6 -39.2M-65.2 -66.4L-60.5 -64.5L-57.9 -59.7L-52.3 -59.0L-50.0 -53.1L-43.9 -52.7L-41.0 -47.6L-35.0 -46.8L-33.0 -41.4L-27.2 -40.4L-25.4 -34.8L-19.8 -33.7L-17.7 -28.4L-12.3 -27.0L-10.4 -21.4L-4.2 -20.9L-2.6 -15.1L2.7 -13.3L5.5 -8.7M-59.9 63.1L-56.4 58.8L-50.5 58.4L-48.0 53.7L-42.7 50.9L-42.0 45.0L-37.4 42.5L-34.6 37.3L-28.4 37.5L-25.6 32.3L-20.7 32.2L-14.9 29.4L-9.1 32.0L-3.0 29.5L0.7 33.0L5.5 32.6M-16.4 90.2L-10.3 89.1L-2.6 90.1L-5.7 85.6L-3.6 80.7L-7.2 75.6L-2.7 72.2L-4.0 67.0L0.1 63.6L-1.1 57.4L5.5 54.4M-80.8 -47.0L-75.5 -47.6L-71.1 -43.8L-64.7 -43.8L-69.3 -39.6L-69.0 -35.2L-65.9 -30.3L-60.3 -31.2L-56.4 -28.2M-91.2 1.9L-86.6 0.0L-81.6 2.0L-75.3 -0.7L-76.8 5.3L-72.7 8.3L-69.4 13.6L-63.9 15.0M-81.8 39.5L-78.3 35.2L-72.5 34.7L-68.6 29.4L-63.0 32.4L-57.3 31.0M-87.4 -23.5L-80.9 -23.8L-76.7 -20.1L-72.1 -16.5L-71.4 -11.3M-73.3 58.3L-70.2 54.4L-64.9 53.0L-62.0 48.9" stroke="#ee1010" stroke-width="3.0" stroke-linejoin="miter" stroke-linecap="square" fill="none"/>
<path d="M-11.2 88.9L-16.4 91.6L-18.6 86.7L-23.8 90.0L-26.7 84.6L-31.3 87.6L-33.7 82.0L-38.2 84.9L-39.7 79.1L-45.0 81.4L-46.7 76.6L-51.6 77.5L-51.6 71.9L-57.6 73.1L-57.9 67.5L-63.6 68.0L-62.7 63.4L-68.3 63.2L-67.7 58.1L-72.5 58.4L-71.7 54.4L-75.8 54.0L-75.0 48.0L-80.8 46.1L-79.5 40.8L-84.0 40.0L-82.2 36.0L-86.4 34.7L-84.4 29.1L-89.1 26.7L-87.0 23.1L-90.9 19.8L-87.9 15.0L-92.2 12.5L-88.1 8.7L-92.9 5.0L-88.4 0.8L-93.0 -3.4L-90.0 -6.0L-92.4 -10.8L-88.1 -13.8L-91.4 -17.5L-87.4 -21.2L-89.3 -26.2L-84.7 -29.0L-86.6 -34.1L-82.1 -36.0L-83.7 -40.6L-79.7 -41.4L-81.0 -45.9L-76.3 -47.4L-76.5 -52.9L-71.0 -54.5L-70.9 -60.3L-66.3 -60.8L-65.6 -66.0L-59.4 -65.9L-60.2 -71.0L-55.1 -71.2L-53.5 -76.2L-48.6 -74.8L-47.7 -79.9L-43.2 -77.8L-40.9 -83.6L-36.9 -81.2L-35.6 -86.0L-31.5 -84.5L-29.4 -88.3L-25.0 -85.9L-22.9 -90.2L-19.6 -87.7L-16.0 -91.7L-12.4 -88.6L-8.9 -92.6L-4.4 -89.8L0.1 -93.1L4.3 -88.5L7.4 -92.8L10.0 -88.8L14.7 -91.9L18.4 -88.3L22.1 -90.4L25.0 -85.2L29.1 -88.4L31.2 -83.5L35.3 -86.1L36.9 -80.4L43.0 -82.5" stroke="#ee1010" stroke-width="2.7" stroke-linejoin="miter" fill="none" stroke-dasharray="6 3"/>
</g>
<g transform="translate(1123.5,677.5)">
<circle r="95.0" fill="#fff"/>
<clipPath id="clip_d"><circle r="92.0"/></clipPath>
<g clip-path="url(#clip_d)">
<rect x="-94.0" y="-94.0" width="188.0" height="188.0" fill="url(#gd)"/>
<g filter="url(#blur5)" fill="none" stroke-linecap="round" stroke-linejoin="round"><path d="M-3.2 -90.2L-3.6 -84.6L-7.9 -80.6L-7.7 -74.8L-11.7 -69.8L-7.4 -66.7L-8.6 -61.1L-4.5 -59.1L-1.5 -54.5L3.8 -54.5L6.6 -50.7L9.6 -46.8M20.2 -88.3L22.2 -83.4L20.4 -78.0L23.6 -73.3L22.4 -67.7L26.7 -63.7L25.6 -57.7L29.9 -53.4L28.0 -48.1L31.9 -43.6L30.9 -38.4M-63.8 -65.0L-59.4 -62.9L-57.1 -57.9L-51.3 -57.7L-48.6 -52.4L-43.0 -51.5L-40.5 -46.1L-34.3 -45.7L-32.1 -40.7L-27.0 -39.1L-25.1 -33.8L-19.2 -33.1L-17.6 -27.4L-11.7 -26.8L-10.0 -21.2L-4.0 -20.5L-2.7 -14.7L2.8 -13.1L5.3 -8.6M-58.6 61.7L-55.3 57.5L-49.2 57.4L-47.3 52.3L-41.7 49.8L-41.5 43.8L-36.7 41.3L-33.6 36.8L-28.1 36.2L-25.0 31.6L-20.2 31.0L-14.6 28.8L-8.9 31.0L-2.8 28.3L5.3 31.9M-16.0 88.3L-10.1 87.0L-2.9 88.2L-5.7 83.8L-3.8 79.0L-7.1 74.0L-2.1 69.3L-3.2 62.7L0.7 58.4L5.3 53.3M-79.1 -46.0L-73.9 -46.7L-69.5 -43.1L-63.2 -42.8L-68.0 -38.8L-67.5 -34.6L-64.4 -29.9L-58.9 -30.9L-55.2 -27.6M-89.2 1.8L-84.9 -0.5L-79.8 2.3L-74.4 -0.4L-74.5 5.0L-71.1 8.1L-67.8 13.0L-62.6 14.7M-80.0 38.6L-76.4 34.9L-70.5 34.7L-67.2 28.6L-61.6 31.6L-56.1 30.4M-85.6 -23.0L-79.2 -23.2L-74.8 -19.7L-70.1 -16.3L-69.9 -11.0M-71.8 57.0L-69.0 52.9L-63.6 51.8L-60.7 47.8" stroke="#0830d8" stroke-opacity="0.75" stroke-width="16"/></g>
<g filter="url(#blur7)" fill="none" stroke-linecap="round" stroke-linejoin="round"><path d="M-3.2 -90.2L-3.6 -84.6L-7.9 -80.6L-7.7 -74.8L-11.7 -69.8L-7.4 -66.7L-8.6 -61.1M20.2 -88.3L22.2 -83.4L20.4 -78.0L23.6 -73.3L22.4 -67.7L26.7 -63.7M-63.8 -65.0L-59.4 -62.9L-57.1 -57.9L-51.3 -57.7L-48.6 -52.4L-43.0 -51.5L-40.5 -46.1L-34.3 -45.7L-32.1 -40.7L-27.0 -39.1L-25.1 -33.8M-58.6 61.7L-55.3 57.5L-49.2 57.4L-47.3 52.3L-41.7 49.8L-41.5 43.8L-36.7 41.3L-33.6 36.8L-28.1 36.2M-16.0 88.3L-10.1 87.0L-2.9 88.2L-5.7 83.8L-3.8 79.0L-7.1 74.0M-79.1 -46.0L-73.9 -46.7L-69.5 -43.1L-63.2 -42.8L-68.0 -38.8M-89.2 1.8L-84.9 -0.5L-79.8 2.3L-74.4 -0.4M-80.0 38.6L-76.4 34.9L-70.5 34.7M-85.6 -23.0L-79.2 -23.2L-74.8 -19.7M-71.8 57.0L-69.0 52.9" stroke="#020a98" stroke-opacity="1.00" stroke-width="44"/></g>
<g filter="url(#blur7)" fill="none" stroke-linecap="round" stroke-linejoin="round"><path d="M0.0 91.1L-8.7 90.7L-17.3 89.4L-25.8 87.3L-34.1 84.5L-42.0 80.8L-49.5 76.4L-56.6 71.3L-63.2 65.6L-69.2 59.3L-74.5 52.4L-79.2 45.0L-83.1 37.2L-86.3 29.1L-88.7 20.7L-90.3 12.1L-91.0 3.4L-90.9 -5.3L-90.0 -14.0L-88.3 -22.5L-85.7 -30.9L-82.4 -38.9L-78.3 -46.6L-73.4 -53.9L-67.9 -60.7L-61.8 -66.9L-55.1 -72.5L-48.0 -77.4L-40.3 -81.7L-32.3 -85.1L-24.0 -87.9L-15.5 -89.7L-6.9 -90.8L1.9 -91.1L10.6 -90.5L19.2 -89.0L27.6 -86.8L35.8 -83.8L43.6 -80.0L51.1 -75.4L58.1 -70.2" stroke="#020a98" stroke-opacity="1.00" stroke-width="36"/></g>
<polygon points="0.0,96.6 -5.8,96.4 -11.5,95.9 -17.3,95.0 -22.9,93.8 -28.5,92.3 -34.0,90.4 -39.3,88.2 -44.5,85.7 -49.6,82.9 -54.5,79.8 -59.1,76.4 -63.6,72.7 -67.8,68.8 -71.8,64.6 -75.6,60.2 -79.0,55.5 -82.2,50.7 -85.1,45.7 -87.7,40.5 -90.0,35.2 -91.9,29.8 -93.5,24.2 -94.8,18.6 -95.7,12.9 -96.3,7.1 -96.6,1.3 -96.5,-4.5 -96.1,-10.2 -95.3,-16.0 -94.1,-21.6 -92.7,-27.2 -90.9,-32.7 -88.8,-38.1 -86.3,-43.3 -83.6,-48.4 -80.5,-53.4 -77.2,-58.1 -73.6,-62.6 -69.7,-66.9 -65.6,-70.9 -61.2,-74.7 -56.6,-78.3 -51.8,-81.5 -46.9,-84.5 -41.7,-87.1 -36.4,-89.5 -31.0,-91.5 -25.5,-93.2 -19.9,-94.5 -14.2,-95.6 -8.4,-96.2 -2.7,-96.6 3.1,-96.5 8.9,-96.2 14.6,-95.5 20.3,-94.4 25.9,-93.1 31.5,-91.3 36.9,-89.3 42.2,-86.9 47.3,-84.2 52.2,-81.3 57.0,-78.0 61.6,-74.4 58.6,-70.9 53.5,-73.1 47.6,-74.0 42.3,-75.4 38.1,-78.6 30.5,-73.8 25.3,-73.3 23.0,-82.6 17.0,-79.0 13.0,-84.6 6.9,-75.0 2.5,-76.1 -2.4,-85.9 -7.2,-82.6 -11.3,-75.8 -15.7,-74.5 -19.9,-72.8 -27.7,-81.8 -31.2,-76.6 -37.4,-78.1 -38.9,-70.2 -41.5,-65.2 -47.0,-64.9 -49.1,-60.0 -57.6,-62.3 -57.2,-54.9 -60.2,-51.2 -66.4,-49.9 -63.5,-42.1 -65.5,-38.0 -75.5,-37.9 -74.1,-31.8 -78.5,-28.3 -73.1,-21.5 -73.3,-16.8 -80.1,-13.4 -81.0,-8.6 -85.2,-3.9 -78.9,1.1 -83.2,6.1 -79.5,10.7 -77.0,15.1 -75.5,19.5 -82.3,26.6 -71.1,27.8 -68.1,31.5 -70.7,38.0 -63.6,39.2 -67.1,47.2 -67.2,53.5 -60.7,54.5 -54.2,54.9 -52.1,59.5 -52.2,67.5 -48.5,71.1 -43.9,73.4 -37.1,71.5 -30.4,68.2 -29.5,78.6 -24.6,79.8 -19.3,78.9 -15.3,84.4 -10.7,88.5 -5.4,89.8 0.0,92.0" fill="#fff"/>
<polyline points="0.0,92.0 -5.4,89.8 -10.7,88.5 -15.3,84.4 -19.3,78.9 -24.6,79.8 -29.5,78.6 -30.4,68.2 -37.1,71.5 -43.9,73.4 -48.5,71.1 -52.2,67.5 -52.1,59.5 -54.2,54.9 -60.7,54.5 -67.2,53.5 -67.1,47.2 -63.6,39.2 -70.7,38.0 -68.1,31.5 -71.1,27.8 -82.3,26.6 -75.5,19.5 -77.0,15.1 -79.5,10.7 -83.2,6.1 -78.9,1.1 -85.2,-3.9 -81.0,-8.6 -80.1,-13.4 -73.3,-16.8 -73.1,-21.5 -78.5,-28.3 -74.1,-31.8 -75.5,-37.9 -65.5,-38.0 -63.5,-42.1 -66.4,-49.9 -60.2,-51.2 -57.2,-54.9 -57.6,-62.3 -49.1,-60.0 -47.0,-64.9 -41.5,-65.2 -38.9,-70.2 -37.4,-78.1 -31.2,-76.6 -27.7,-81.8 -19.9,-72.8 -15.7,-74.5 -11.3,-75.8 -7.2,-82.6 -2.4,-85.9 2.5,-76.1 6.9,-75.0 13.0,-84.6 17.0,-79.0 23.0,-82.6 25.3,-73.3 30.5,-73.8 38.1,-78.6 42.3,-75.4 47.6,-74.0 53.5,-73.1 58.6,-70.9" fill="none" stroke="#111" stroke-width="1.2"/>
<path d="M-3.2 -90.2L-3.6 -84.6L-7.9 -80.6L-7.7 -74.8L-11.7 -69.8L-7.4 -66.7L-8.6 -61.1L-4.5 -59.1L-1.5 -54.5L3.8 -54.5L6.6 -50.7L9.6 -46.8" stroke="#0a1030" stroke-width="1.6" fill="none"/>
<path d="M-3.2 -90.2L-3.6 -84.6L-7.9 -80.6L-7.7 -74.8L-11.7 -69.8L-7.4 -66.7L-8.6 -61.1L-4.5 -59.1" stroke="#111" stroke-width="10.1" stroke-linecap="butt" stroke-linejoin="miter" fill="none"/>
<path d="M-3.2 -90.2L-3.6 -84.6L-7.9 -80.6L-7.7 -74.8L-11.7 -69.8L-7.4 -66.7L-8.6 -61.1L-4.5 -59.1" stroke="#fff" stroke-width="7.5" stroke-linecap="square" stroke-linejoin="miter" fill="none"/>
<path d="M20.2 -88.3L22.2 -83.4L20.4 -78.0L23.6 -73.3L22.4 -67.7L26.7 -63.7L25.6 -57.7L29.9 -53.4L28.0 -48.1L31.9 -43.6L30.9 -38.4" stroke="#0a1030" stroke-width="1.6" fill="none"/>
<path d="M20.2 -88.3L22.2 -83.4L20.4 -78.0L23.6 -73.3L22.4 -67.7L26.7 -63.7L25.6 -57.7L29.9 -53.4" stroke="#111" stroke-width="10.1" stroke-linecap="butt" stroke-linejoin="miter" fill="none"/>
<path d="M20.2 -88.3L22.2 -83.4L20.4 -78.0L23.6 -73.3L22.4 -67.7L26.7 -63.7L25.6 -57.7L29.9 -53.4" stroke="#fff" stroke-width="7.5" stroke-linecap="square" stroke-linejoin="miter" fill="none"/>
<path d="M-63.8 -65.0L-59.4 -62.9L-57.1 -57.9L-51.3 -57.7L-48.6 -52.4L-43.0 -51.5L-40.5 -46.1L-34.3 -45.7L-32.1 -40.7L-27.0 -39.1L-25.1 -33.8L-19.2 -33.1L-17.6 -27.4L-11.7 -26.8L-10.0 -21.2L-4.0 -20.5L-2.7 -14.7L2.8 -13.1L5.3 -8.6" stroke="#0a1030" stroke-width="1.6" fill="none"/>
<path d="M-63.8 -65.0L-59.4 -62.9L-57.1 -57.9L-51.3 -57.7L-48.6 -52.4L-43.0 -51.5L-40.5 -46.1L-34.3 -45.7L-32.1 -40.7L-27.0 -39.1L-25.1 -33.8L-19.2 -33.1L-17.6 -27.4" stroke="#111" stroke-width="10.1" stroke-linecap="butt" stroke-linejoin="miter" fill="none"/>
<path d="M-63.8 -65.0L-59.4 -62.9L-57.1 -57.9L-51.3 -57.7L-48.6 -52.4L-43.0 -51.5L-40.5 -46.1L-34.3 -45.7L-32.1 -40.7L-27.0 -39.1L-25.1 -33.8L-19.2 -33.1L-17.6 -27.4" stroke="#fff" stroke-width="7.5" stroke-linecap="square" stroke-linejoin="miter" fill="none"/>
<path d="M-58.6 61.7L-55.3 57.5L-49.2 57.4L-47.3 52.3L-41.7 49.8L-41.5 43.8L-36.7 41.3L-33.6 36.8L-28.1 36.2L-25.0 31.6L-20.2 31.0L-14.6 28.8L-8.9 31.0L-2.8 28.3L5.3 31.9" stroke="#0a1030" stroke-width="1.6" fill="none"/>
<path d="M-58.6 61.7L-55.3 57.5L-49.2 57.4L-47.3 52.3L-41.7 49.8L-41.5 43.8L-36.7 41.3L-33.6 36.8L-28.1 36.2L-25.0 31.6L-20.2 31.0" stroke="#111" stroke-width="10.1" stroke-linecap="butt" stroke-linejoin="miter" fill="none"/>
<path d="M-58.6 61.7L-55.3 57.5L-49.2 57.4L-47.3 52.3L-41.7 49.8L-41.5 43.8L-36.7 41.3L-33.6 36.8L-28.1 36.2L-25.0 31.6L-20.2 31.0" stroke="#fff" stroke-width="7.5" stroke-linecap="square" stroke-linejoin="miter" fill="none"/>
<path d="M-16.0 88.3L-10.1 87.0L-2.9 88.2L-5.7 83.8L-3.8 79.0L-7.1 74.0L-2.1 69.3L-3.2 62.7L0.7 58.4L5.3 53.3" stroke="#0a1030" stroke-width="1.6" fill="none"/>
<path d="M-16.0 88.3L-10.1 87.0L-2.9 88.2L-5.7 83.8L-3.8 79.0L-7.1 74.0L-2.1 69.3" stroke="#111" stroke-width="10.1" stroke-linecap="butt" stroke-linejoin="miter" fill="none"/>
<path d="M-16.0 88.3L-10.1 87.0L-2.9 88.2L-5.7 83.8L-3.8 79.0L-7.1 74.0L-2.1 69.3" stroke="#fff" stroke-width="7.5" stroke-linecap="square" stroke-linejoin="miter" fill="none"/>
<path d="M-79.1 -46.0L-73.9 -46.7L-69.5 -43.1L-63.2 -42.8L-68.0 -38.8L-67.5 -34.6L-64.4 -29.9L-58.9 -30.9L-55.2 -27.6" stroke="#0a1030" stroke-width="1.6" fill="none"/>
<path d="M-79.1 -46.0L-73.9 -46.7L-69.5 -43.1L-63.2 -42.8L-68.0 -38.8L-67.5 -34.6L-64.4 -29.9L-58.9 -30.9L-55.2 -27.6" stroke="#111" stroke-width="10.1" stroke-linecap="butt" stroke-linejoin="miter" fill="none"/>
<path d="M-79.1 -46.0L-73.9 -46.7L-69.5 -43.1L-63.2 -42.8L-68.0 -38.8L-67.5 -34.6L-64.4 -29.9L-58.9 -30.9L-55.2 -27.6" stroke="#fff" stroke-width="7.5" stroke-linecap="square" stroke-linejoin="miter" fill="none"/>
<path d="M-89.2 1.8L-84.9 -0.5L-79.8 2.3L-74.4 -0.4L-74.5 5.0L-71.1 8.1L-67.8 13.0L-62.6 14.7" stroke="#0a1030" stroke-width="1.6" fill="none"/>
<path d="M-89.2 1.8L-84.9 -0.5L-79.8 2.3L-74.4 -0.4L-74.5 5.0L-71.1 8.1L-67.8 13.0L-62.6 14.7" stroke="#111" stroke-width="10.1" stroke-linecap="butt" stroke-linejoin="miter" fill="none"/>
<path d="M-89.2 1.8L-84.9 -0.5L-79.8 2.3L-74.4 -0.4L-74.5 5.0L-71.1 8.1L-67.8 13.0L-62.6 14.7" stroke="#fff" stroke-width="7.5" stroke-linecap="square" stroke-linejoin="miter" fill="none"/>
<path d="M-80.0 38.6L-76.4 34.9L-70.5 34.7L-67.2 28.6L-61.6 31.6L-56.1 30.4" stroke="#0a1030" stroke-width="1.6" fill="none"/>
<path d="M-80.0 38.6L-76.4 34.9L-70.5 34.7L-67.2 28.6L-61.6 31.6L-56.1 30.4" stroke="#111" stroke-width="10.1" stroke-linecap="butt" stroke-linejoin="miter" fill="none"/>
<path d="M-80.0 38.6L-76.4 34.9L-70.5 34.7L-67.2 28.6L-61.6 31.6L-56.1 30.4" stroke="#fff" stroke-width="7.5" stroke-linecap="square" stroke-linejoin="miter" fill="none"/>
<path d="M-85.6 -23.0L-79.2 -23.2L-74.8 -19.7L-70.1 -16.3L-69.9 -11.0" stroke="#0a1030" stroke-width="1.6" fill="none"/>
<path d="M-85.6 -23.0L-79.2 -23.2L-74.8 -19.7L-70.1 -16.3L-69.9 -11.0" stroke="#111" stroke-width="10.1" stroke-linecap="butt" stroke-linejoin="miter" fill="none"/>
<path d="M-85.6 -23.0L-79.2 -23.2L-74.8 -19.7L-70.1 -16.3L-69.9 -11.0" stroke="#fff" stroke-width="7.5" stroke-linecap="square" stroke-linejoin="miter" fill="none"/>
<path d="M-71.8 57.0L-69.0 52.9L-63.6 51.8L-60.7 47.8" stroke="#0a1030" stroke-width="1.6" fill="none"/>
<path d="M-71.8 57.0L-69.0 52.9L-63.6 51.8L-60.7 47.8" stroke="#111" stroke-width="10.1" stroke-linecap="butt" stroke-linejoin="miter" fill="none"/>
<path d="M-71.8 57.0L-69.0 52.9L-63.6 51.8L-60.7 47.8" stroke="#fff" stroke-width="7.5" stroke-linecap="square" stroke-linejoin="miter" fill="none"/>
</g>
<polyline points="-8.7,91.9 -15.6,91.0 -22.5,89.5 -29.2,87.6 -35.8,85.1 -42.1,82.1 -48.2,78.7 -54.1,74.8 -59.6,70.5 -64.8,65.8 -69.6,60.7 -74.0,55.2 -77.9,49.5 -81.5,43.4 -84.5,37.1 -87.1,30.6 -89.2,23.9 -90.7,17.1 -91.7,10.1 -92.2,3.1 -92.2,-3.9 -91.7,-10.8 -90.6,-17.8 -89.0,-24.6 -86.8,-31.3 -84.2,-37.8 -81.1,-44.0 -77.5,-50.1 -73.5,-55.8 -69.1,-61.2 -64.2,-66.3 -59.0,-71.0 -53.5,-75.2 -47.6,-79.1 -41.5,-82.5 -35.1,-85.4 -28.5,-87.8 -21.8,-89.7 -14.9,-91.1 -8.0,-92.0 -1.0,-92.3 6.0,-92.1 13.0,-91.4 19.9,-90.1 26.7,-88.4 33.3,-86.1 39.7,-83.3 45.9,-80.1 51.9,-76.3" fill="none" stroke="#fff" stroke-width="2.4"/>
<path d="M-75.4 39.5h0.1M-71.7 -18.1h0.1M25.1 79.1h0.1M75.6 -2.3h0.1M-72.6 29.8h0.1M61.5 58.5h0.1M-40.5 65.5h0.1M10.6 84.3h0.1M68.6 32.8h0.1M9.3 69.5h0.1M56.0 -68.1h0.1M5.7 75.0h0.1M19.3 84.7h0.1M71.1 -30.5h0.1M-71.7 12.4h0.1M30.3 -80.1h0.1M65.9 46.0h0.1M-70.6 36.8h0.1M-9.9 -74.5h0.1M87.1 -8.7h0.1M-67.4 47.3h0.1M54.4 -64.4h0.1M29.4 74.4h0.1M-73.8 39.4h0.1M0.1 69.7h0.1M-66.6 24.9h0.1M-84.2 -27.6h0.1M71.6 -0.3h0.1M68.4 -13.5h0.1M50.0 -70.1h0.1M-84.7 7.7h0.1M-71.9 51.5h0.1M-49.6 47.1h0.1M-6.9 72.4h0.1M-77.4 22.5h0.1M65.7 -18.1h0.1M-69.7 -25.5h0.1M46.9 68.8h0.1M75.7 -15.1h0.1M-71.0 -19.3h0.1M72.2 27.1h0.1M-71.3 -1.3h0.1M37.9 57.6h0.1M75.1 41.3h0.1M-62.1 -42.2h0.1M8.1 86.7h0.1M65.1 -53.7h0.1M-63.2 -42.7h0.1M-67.4 37.5h0.1M-68.8 -9.9h0.1M21.0 71.2h0.1M5.8 80.9h0.1M-39.3 -73.3h0.1M-29.7 67.2h0.1M71.6 35.1h0.1M68.2 -0.7h0.1M76.2 37.8h0.1M-6.6 69.2h0.1M51.8 -48.1h0.1M-58.9 63.1h0.1M37.4 -64.4h0.1M-52.2 -44.1h0.1M-50.8 -73.7h0.1M34.1 -75.9h0.1M-35.9 -59.4h0.1M58.0 65.2h0.1M60.8 48.4h0.1M-10.7 75.9h0.1M-17.2 -83.5h0.1M-55.8 -62.7h0.1M-69.9 5.0h0.1M49.8 -72.2h0.1M-74.3 38.7h0.1M73.0 1.6h0.1M-54.7 -63.8h0.1M-4.3 -77.7h0.1M-80.4 39.3h0.1M62.9 32.2h0.1M64.1 -44.2h0.1M39.1 -66.5h0.1M51.9 69.7h0.1M-25.1 65.6h0.1M20.3 -68.1h0.1M68.6 -50.5h0.1M0.3 87.5h0.1M-10.2 -42.6h0.1M-54.9 7.3h0.1M-18.1 37.6h0.1M3.8 -39.5h0.1M-5.0 -43.6h0.1M3.0 50.2h0.1M-38.0 17.1h0.1M-6.6 -44.2h0.1M-8.1 -70.5h0.1M-16.0 -76.4h0.1M5.7 -44.5h0.1M-30.7 35.2h0.1M-69.1 -5.5h0.1M-12.7 -71.6h0.1M4.8 74.1h0.1M-40.4 19.0h0.1M33.7 -61.9h0.1M-45.8 -46.3h0.1M31.1 -50.3h0.1M29.5 -71.9h0.1M36.7 -65.3h0.1M32.9 -63.0h0.1M-16.9 61.3h0.1M-29.2 -62.4h0.1M-47.8 -36.6h0.1M-56.0 12.2h0.1M-38.5 34.3h0.1M6.3 41.5h0.1M-47.3 -19.2h0.1M-20.0 -49.3h0.1M-76.2 23.4h0.1M-43.4 -52.6h0.1M-39.9 21.5h0.1M-31.6 -61.9h0.1M-56.4 31.8h0.1M-69.0 10.3h0.1M-21.6 60.5h0.1M20.3 -48.8h0.1M13.6 -53.9h0.1M-50.1 30.4h0.1M10.9 69.3h0.1M-57.1 2.3h0.1M-41.4 -46.5h0.1M-73.4 -0.6h0.1M-42.6 -5.6h0.1M-12.9 -74.2h0.1M-10.5 59.1h0.1M-49.4 -46.7h0.1M-4.2 -49.5h0.1M-44.5 -57.7h0.1M-47.8 66.3h0.1M-44.5 42.9h0.1M3.0 -79.5h0.1M-54.7 5.5h0.1M-29.7 42.8h0.1M-70.4 -15.3h0.1M-54.6 -61.9h0.1M-16.7 -45.8h0.1M-16.6 61.8h0.1M-20.6 34.9h0.1M-76.8 -24.3h0.1M-33.2 30.9h0.1M-47.3 -3.1h0.1M-24.5 -30.5h0.1M-33.5 -23.4h0.1M11.2 -54.6h0.1M-27.6 -53.8h0.1M-2.2 -58.6h0.1M11.1 -48.7h0.1M-70.7 -9.7h0.1M-39.7 37.5h0.1M-17.2 -57.3h0.1M-52.5 -47.3h0.1M-10.3 69.4h0.1M-54.2 42.2h0.1M-70.8 -29.4h0.1M-35.6 38.1h0.1M-40.0 -69.2h0.1M-58.4 7.5h0.1M-73.3 7.0h0.1M0.3 -56.2h0.1M15.6 -60.3h0.1M37.1 -47.5h0.1M-4.5 -82.5h0.1M-5.9 -60.3h0.1M33.5 -43.3h0.1M0.2 -60.8h0.1M12.6 -63.8h0.1M-22.3 -73.0h0.1M2.4 -81.9h0.1M-7.6 -62.3h0.1M-1.5 -77.9h0.1M6.0 -78.8h0.1M25.0 -78.1h0.1M-2.3 -66.1h0.1M-35.4 -53.2h0.1M-28.5 -63.1h0.1M-37.6 -61.0h0.1M-22.3 -69.7h0.1M35.6 -62.2h0.1M28.2 -51.0h0.1M-19.7 -77.9h0.1M51.3 44.5h0.1M-22.6 69.6h0.1M6.3 60.9h0.1M6.3 61.7h0.1M-19.4 74.8h0.1M59.3 51.6h0.1M42.8 48.0h0.1M15.7 75.2h0.1M2.7 61.6h0.1M41.5 51.4h0.1M-1.1 79.6h0.1M-5.5 55.9h0.1M56.0 60.0h0.1M31.1 56.0h0.1M-18.8 69.4h0.1M2.1 80.7h0.1M3.6 65.4h0.1M42.3 44.6h0.1M-8.9 65.6h0.1M37.3 41.3h0.1M-4.0 73.1h0.1M26.1 67.7h0.1M-43.5 -7.8h0.1M-5.9 -28.1h0.1M-8.7 22.7h0.1M-23.1 -16.7h0.1M-26.4 -31.6h0.1M-13.7 -19.8h0.1M-23.4 17.4h0.1M-38.0 -11.3h0.1M-81.5 34.9h0.1M-10.2 87.5h0.1M44.5 -80.1h0.1M66.9 -61.5h0.1M-87.0 19.6h0.1M-66.6 63.3h0.1M54.0 -73.4h0.1M20.8 85.8h0.1M-47.3 74.2h0.1M-27.4 -86.5h0.1M87.5 5.6h0.1M76.2 45.4h0.1M-88.3 6.3h0.1M-32.5 -82.9h0.1M-88.2 5.1h0.1M75.9 50.2h0.1M-32.4 -84.6h0.1M-78.3 -44.0h0.1M-88.3 -17.4h0.1M-2.3 -90.4h0.1M-26.5 -86.8h0.1M-0.8 91.4h0.1M32.3 85.6h0.1M-86.3 -19.8h0.1M36.1 83.6h0.1M-88.2 8.8h0.1M88.6 -13.1h0.1M-18.8 89.6h0.1M31.3 85.4h0.1M39.4 83.0h0.1M-88.7 -19.3h0.1M88.3 -14.4h0.1M-29.7 -86.5h0.1M60.8 -66.0h0.1M62.3 -64.1h0.1M-88.3 17.2h0.1M36.8 84.1h0.1M83.7 -32.5h0.1M39.5 -81.1h0.1M79.6 40.0h0.1M86.2 30.2h0.1M-83.6 -34.9h0.1M91.4 -3.5h0.1M8.1 -88.8h0.1M23.0 -88.0h0.1M-89.0 -12.7h0.1M-82.4 31.0h0.1M90.4 -5.7h0.1M-64.6 -61.5h0.1M-5.5 -87.5h0.1M23.9 87.8h0.1M-48.7 -77.2h0.1M42.2 81.4h0.1M89.9 1.5h0.1M-75.4 -50.4h0.1M10.3 88.1h0.1M-26.2 -86.0h0.1M-33.6 -81.0h0.1M21.0 -86.6h0.1M-46.4 -74.4h0.1M-79.8 40.6h0.1M-52.7 -70.3h0.1M42.5 -81.2h0.1M45.7 78.2h0.1M-0.6 -89.4h0.1M-22.0 88.8h0.1M-33.4 -82.3h0.1M83.9 -31.6h0.1M-91.6 3.6h0.1M87.2 22.3h0.1M-39.9 81.6h0.1M73.5 47.5h0.1M45.9 -76.6h0.1M83.3 -26.6h0.1M-42.6 -80.2h0.1M85.7 22.1h0.1M-87.5 16.4h0.1M78.8 -45.9h0.1M-76.6 -45.5h0.1M-91.5 4.8h0.1M-52.2 73.9h0.1M-42.4 -77.2h0.1M-42.7 77.9h0.1M-20.8 85.1h0.1M34.8 -82.4h0.1M-86.9 25.4h0.1M-38.9 78.4h0.1M-73.9 50.8h0.1M88.7 -6.6h0.1M-86.9 -23.8h0.1M34.5 83.5h0.1M3.6 -89.1h0.1M5.7 -90.9h0.1M-83.6 -26.7h0.1M-82.2 33.7h0.1M63.3 60.5h0.1M-70.4 -57.4h0.1M48.7 75.0h0.1M-86.7 -29.5h0.1M87.7 -4.3h0.1M-88.8 21.9h0.1M44.3 -78.0h0.1M-18.7 -87.7h0.1M-12.9 87.2h0.1M90.2 -11.3h0.1M-85.6 -28.6h0.1M79.1 -42.3h0.1M63.9 -60.5h0.1M-14.5 87.2h0.1M-75.5 44.7h0.1M-88.1 -4.3h0.1M-18.6 88.7h0.1M-74.7 -45.4h0.1M-91.1 5.9h0.1M-87.8 -21.7h0.1M-84.8 -28.7h0.1M-87.0 25.1h0.1M33.4 82.3h0.1M-81.8 -39.6h0.1M14.7 -90.6h0.1M-3.0 -88.7h0.1M34.0 -83.6h0.1M-45.5 -75.6h0.1M89.1 -10.8h0.1M87.3 20.7h0.1M-74.2 -47.2h0.1M63.3 -63.9h0.1M-88.7 -14.6h0.1M-15.5 -88.8h0.1M-51.4 -75.4h0.1M-85.9 16.7h0.1M-46.9 75.4h0.1M-51.8 -71.2h0.1M52.8 -70.5h0.1M-66.0 62.0h0.1M-17.3 -86.8h0.1M63.9 -66.0h0.1M81.0 37.1h0.1M76.8 -41.7h0.1M-1.8 -90.0h0.1M72.6 51.7h0.1M62.6 -64.6h0.1M-30.3 -82.5h0.1M84.7 25.2h0.1M-24.3 86.9h0.1M54.6 71.0h0.1M-80.9 -35.6h0.1M44.2 80.3h0.1M61.4 -64.7h0.1M5.1 87.7h0.1" stroke="#060c30" stroke-width="2.0" stroke-linecap="square" fill="none" opacity="0.8"/>
</g>
<line x1="166.6" y1="67" x2="166.6" y2="360" stroke="#303030" stroke-width="2.6" stroke-dasharray="17.8 7.8" opacity="0.85"/>
<line x1="166.3" y1="689.5" x2="184.4" y2="714.3" stroke="#000" stroke-width="4.0"/><polygon points="196.8,731.2 174.1,719.3 192.3,706.0" fill="#000"/>
<line x1="493.2" y1="367.0" x2="478.0" y2="342.8" stroke="#000" stroke-width="4.0"/><polygon points="466.8,325.0 488.6,338.5 469.5,350.5" fill="#000"/>
<line x1="774.4" y1="465.0" x2="754.1" y2="484.0" stroke="#000" stroke-width="4.0"/><polygon points="738.8,498.3 747.9,474.3 763.3,490.8" fill="#000"/>
<line x1="1013.0" y1="576.1" x2="1047.8" y2="576.1" stroke="#000" stroke-width="4.0"/><polygon points="1068.8,576.1 1045.8,587.4 1045.8,564.8" fill="#000"/>
<line x1="361.2" y1="19.8" x2="414.3" y2="19.8" stroke="#000" stroke-width="5.4"/>
<line x1="530.6" y1="19.3" x2="580" y2="19.3" stroke="#0a0aee" stroke-width="5" stroke-dasharray="14 3.7"/>
<line x1="756.2" y1="19.5" x2="810.1" y2="19.5" stroke="#f00a0a" stroke-width="5.4"/>
<text x="420.8" y="34.5" font-size="42.6" letter-spacing="0.5" font-family="Liberation Serif, serif" font-weight="bold" fill="#000">Total</text>
<text x="587.0" y="34.5" font-size="42.4" font-family="Liberation Serif, serif" font-weight="bold" fill="#000">Effective</text>
<text x="814.6" y="34.5" font-size="42.6" font-family="Liberation Serif, serif" font-weight="bold" fill="#000">Ineffective</text>
<text x="123.3" y="1096.5" font-size="42.4" text-anchor="middle" font-family="Liberation Serif, serif" font-weight="bold" fill="#000">0</text>
<text x="496.3" y="1096.5" font-size="42.4" text-anchor="middle" font-family="Liberation Serif, serif" font-weight="bold" fill="#000">600</text>
<text x="868.1" y="1096.5" font-size="42.4" text-anchor="middle" font-family="Liberation Serif, serif" font-weight="bold" fill="#000">1200</text>
<text x="1239.0" y="1096.5" font-size="42.4" text-anchor="middle" font-family="Liberation Serif, serif" font-weight="bold" fill="#000">1800</text>
<text x="118.4" y="1046.8" font-size="42.4" text-anchor="end" font-family="Liberation Serif, serif" font-weight="bold" fill="#000">0</text>
<text x="118.4" y="827.1" font-size="42.4" text-anchor="end" font-family="Liberation Serif, serif" font-weight="bold" fill="#000">0.5</text>
<text x="118.4" y="607.4" font-size="42.4" text-anchor="end" font-family="Liberation Serif, serif" font-weight="bold" fill="#000">1</text>
<text x="118.4" y="387.7" font-size="42.4" text-anchor="end" font-family="Liberation Serif, serif" font-weight="bold" fill="#000">1.5</text>
<text x="118.4" y="168.0" font-size="42.4" text-anchor="end" font-family="Liberation Serif, serif" font-weight="bold" fill="#000">2</text>
<text x="679.1" y="1138.2" font-size="42.6" text-anchor="middle" font-family="Liberation Serif, serif" font-weight="bold" fill="#000">Time (sec)</text>
<text transform="translate(49.3,794) rotate(-90)" font-size="42.3" font-family="Liberation Serif, serif" font-weight="bold" fill="#000">Electrochemical Area(m<tspan dy="-22.5" font-size="34">2</tspan><tspan dy="22.5">)</tspan></text>
<text x="235.8" y="968.0" font-size="22.6" text-anchor="middle" font-family="Liberation Sans, sans-serif" font-weight="bold" fill="#2a2a2a">(a1)</text>
<text x="438.2" y="968.0" font-size="22.6" text-anchor="middle" font-family="Liberation Sans, sans-serif" font-weight="bold" fill="#2a2a2a">(a2)</text>
<text x="220.4" y="353.2" font-size="22.6" text-anchor="middle" font-family="Liberation Sans, sans-serif" font-weight="bold" fill="#2a2a2a">(b1)</text>
<text x="429.0" y="350.8" font-size="22.6" text-anchor="middle" font-family="Liberation Sans, sans-serif" font-weight="bold" fill="#2a2a2a">(b2)</text>
<text x="532.3" y="689.2" font-size="22.6" text-anchor="middle" font-family="Liberation Sans, sans-serif" font-weight="bold" fill="#2a2a2a">(c1)</text>
<text x="739.8" y="686.5" font-size="22.6" text-anchor="middle" font-family="Liberation Sans, sans-serif" font-weight="bold" fill="#2a2a2a">(c2)</text>
<text x="1123.5" y="358.7" font-size="22.6" text-anchor="middle" font-family="Liberation Sans, sans-serif" font-weight="bold" fill="#2a2a2a">(d1)</text>
<text x="1127.4" y="795.2" font-size="22.6" text-anchor="middle" font-family="Liberation Sans, sans-serif" font-weight="bold" fill="#2a2a2a">(d2)</text>
</svg>
</body></html>
